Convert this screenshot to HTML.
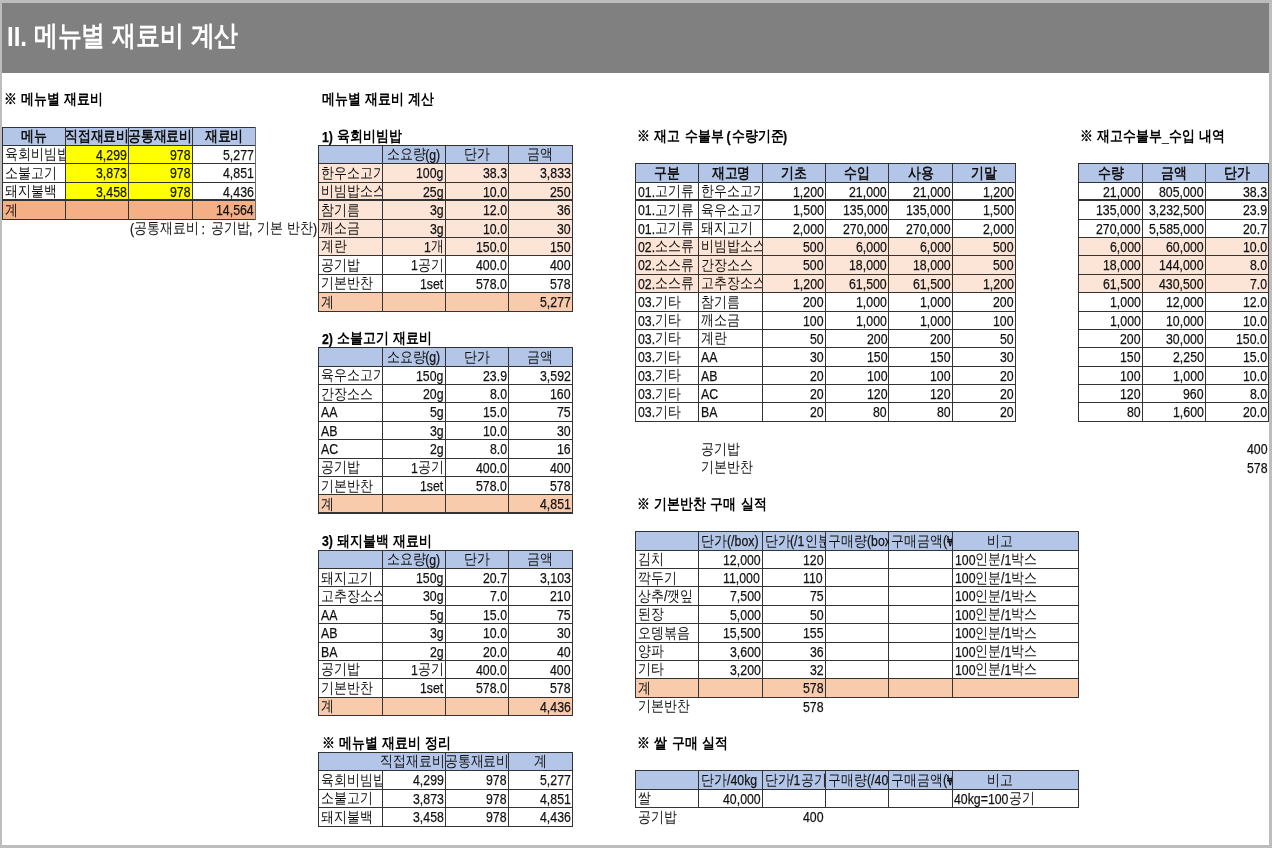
<!DOCTYPE html>
<html lang="ko"><head><meta charset="utf-8"><title>메뉴별 재료비 계산</title>
<style>
html,body{margin:0;padding:0;background:#bdbdbd;}
body{width:1272px;height:848px;position:relative;overflow:hidden;font-family:"Liberation Sans",sans-serif;}
#page{position:absolute;left:2px;top:3px;width:1267px;height:842px;background:#fff;}
#bar{position:absolute;left:2px;top:3px;width:1267px;height:70px;background:#808080;}
#bar i{font-style:normal;position:relative;top:1px;font-size:28px;}
#bar span{position:absolute;left:5px;top:15px;color:#fff;font-weight:bold;font-size:28px;line-height:36px;white-space:nowrap;transform:scaleX(0.855);transform-origin:left center;}
#wrap{position:absolute;left:0;top:0;width:1272px;height:848px;will-change:transform;}
.r{position:absolute;}
.t{position:absolute;white-space:nowrap;line-height:18.39px;color:#111;}
.t span{display:inline-block;}
.c{position:absolute;line-height:18.39px;font-size:15px;}
.c span{position:absolute;top:0;white-space:nowrap;}
.c i{font-style:normal;display:inline-block;white-space:pre;}
.c i i{transform-origin:left center;}
.k{font-size:15px;} .k i{transform:scaleX(0.86);}
.l{font-size:15.5px;position:relative;top:0.5px;-webkit-text-stroke:0.25px currentColor;} .l i{transform:scaleX(0.795);}
.b{font-weight:bold;}
</style></head><body>
<div id="wrap">
<div id="page"></div>
<div id="bar"><span><i>II.</i> 메뉴별 재료비 계산</span></div>
<div class="r" style="left:2px;top:127px;width:253px;height:18px;background:#b4c6e7"></div>
<div class="r" style="left:65px;top:145px;width:63px;height:18px;background:#ffff00"></div>
<div class="r" style="left:128px;top:145px;width:64px;height:18px;background:#ffff00"></div>
<div class="r" style="left:65px;top:163px;width:63px;height:19px;background:#ffff00"></div>
<div class="r" style="left:128px;top:163px;width:64px;height:19px;background:#ffff00"></div>
<div class="r" style="left:65px;top:182px;width:63px;height:18px;background:#ffff00"></div>
<div class="r" style="left:128px;top:182px;width:64px;height:18px;background:#ffff00"></div>
<div class="r" style="left:2px;top:200px;width:253px;height:19px;background:#f4b084"></div>
<div class="r" style="left:2px;top:127px;width:254px;height:1px;background:#333"></div>
<div class="r" style="left:2px;top:145px;width:254px;height:1px;background:#333"></div>
<div class="r" style="left:2px;top:163px;width:254px;height:1px;background:#333"></div>
<div class="r" style="left:2px;top:182px;width:254px;height:1px;background:#333"></div>
<div class="r" style="left:2px;top:199px;width:254px;height:2px;background:#333"></div>
<div class="r" style="left:2px;top:219px;width:254px;height:1px;background:#333"></div>
<div class="r" style="left:2px;top:127px;width:1px;height:19px;background:#333"></div>
<div class="r" style="left:2px;top:145px;width:1px;height:19px;background:#333"></div>
<div class="r" style="left:2px;top:163px;width:1px;height:20px;background:#333"></div>
<div class="r" style="left:2px;top:182px;width:1px;height:19px;background:#333"></div>
<div class="r" style="left:2px;top:200px;width:1px;height:20px;background:#333"></div>
<div class="r" style="left:65px;top:127px;width:1px;height:19px;background:#333"></div>
<div class="r" style="left:65px;top:145px;width:1px;height:19px;background:#333"></div>
<div class="r" style="left:65px;top:163px;width:1px;height:20px;background:#333"></div>
<div class="r" style="left:65px;top:182px;width:1px;height:19px;background:#333"></div>
<div class="r" style="left:65px;top:200px;width:1px;height:20px;background:#333"></div>
<div class="r" style="left:128px;top:127px;width:1px;height:19px;background:#333"></div>
<div class="r" style="left:128px;top:145px;width:1px;height:19px;background:#333"></div>
<div class="r" style="left:128px;top:163px;width:1px;height:20px;background:#333"></div>
<div class="r" style="left:128px;top:182px;width:1px;height:19px;background:#333"></div>
<div class="r" style="left:128px;top:200px;width:1px;height:20px;background:#333"></div>
<div class="r" style="left:192px;top:127px;width:1px;height:19px;background:#333"></div>
<div class="r" style="left:192px;top:145px;width:1px;height:19px;background:#333"></div>
<div class="r" style="left:192px;top:163px;width:1px;height:20px;background:#333"></div>
<div class="r" style="left:192px;top:182px;width:1px;height:19px;background:#333"></div>
<div class="r" style="left:192px;top:200px;width:1px;height:20px;background:#333"></div>
<div class="r" style="left:255px;top:127px;width:1px;height:19px;background:#6e6e6e"></div>
<div class="r" style="left:255px;top:145px;width:1px;height:19px;background:#6e6e6e"></div>
<div class="r" style="left:255px;top:163px;width:1px;height:20px;background:#6e6e6e"></div>
<div class="r" style="left:255px;top:182px;width:1px;height:19px;background:#6e6e6e"></div>
<div class="r" style="left:255px;top:200px;width:1px;height:20px;background:#6e6e6e"></div>
<div class="c b" style="left:2.00px;width:63.35px;top:127.08px;height:18.39px;overflow:hidden;color:#111"><span style="left:50%;transform:translateX(-50%)"><i class="k" style="width:25.80px"><i>메뉴</i></i></span></div>
<div class="c b" style="left:65.35px;width:63.35px;top:127.08px;height:18.39px;overflow:hidden;color:#111"><span style="left:50%;transform:translateX(-50%)"><i class="k" style="width:64.50px"><i>직접재료비</i></i></span></div>
<div class="c b" style="left:128.70px;width:63.35px;top:127.08px;height:18.39px;overflow:hidden;color:#111"><span style="left:50%;transform:translateX(-50%)"><i class="k" style="width:64.50px"><i>공통재료비</i></i></span></div>
<div class="c b" style="left:192.05px;width:63.35px;top:127.08px;height:18.39px;overflow:hidden;color:#111"><span style="left:50%;transform:translateX(-50%)"><i class="k" style="width:38.70px"><i>재료비</i></i></span></div>
<div class="c" style="left:2.00px;width:63.35px;top:145.47px;height:18.39px;overflow:hidden;color:#111"><span style="left:2.5px"><i class="k" style="width:64.50px"><i>육회비빔밥</i></i></span></div>
<div class="c" style="left:65.35px;width:63.35px;top:145.47px;height:18.39px;overflow:hidden;color:#111"><span style="right:1.8px"><i class="l" style="width:30.84px"><i>4,299</i></i></span></div>
<div class="c" style="left:128.70px;width:63.35px;top:145.47px;height:18.39px;overflow:hidden;color:#111"><span style="right:1.8px"><i class="l" style="width:20.56px"><i>978</i></i></span></div>
<div class="c" style="left:192.05px;width:63.35px;top:145.47px;height:18.39px;overflow:hidden;color:#111"><span style="right:1.8px"><i class="l" style="width:30.84px"><i>5,277</i></i></span></div>
<div class="c" style="left:2.00px;width:63.35px;top:163.87px;height:18.39px;overflow:hidden;color:#111"><span style="left:2.5px"><i class="k" style="width:51.60px"><i>소불고기</i></i></span></div>
<div class="c" style="left:65.35px;width:63.35px;top:163.87px;height:18.39px;overflow:hidden;color:#111"><span style="right:1.8px"><i class="l" style="width:30.84px"><i>3,873</i></i></span></div>
<div class="c" style="left:128.70px;width:63.35px;top:163.87px;height:18.39px;overflow:hidden;color:#111"><span style="right:1.8px"><i class="l" style="width:20.56px"><i>978</i></i></span></div>
<div class="c" style="left:192.05px;width:63.35px;top:163.87px;height:18.39px;overflow:hidden;color:#111"><span style="right:1.8px"><i class="l" style="width:30.84px"><i>4,851</i></i></span></div>
<div class="c" style="left:2.00px;width:63.35px;top:182.26px;height:18.39px;overflow:hidden;color:#111"><span style="left:2.5px"><i class="k" style="width:51.60px"><i>돼지불백</i></i></span></div>
<div class="c" style="left:65.35px;width:63.35px;top:182.26px;height:18.39px;overflow:hidden;color:#111"><span style="right:1.8px"><i class="l" style="width:30.84px"><i>3,458</i></i></span></div>
<div class="c" style="left:128.70px;width:63.35px;top:182.26px;height:18.39px;overflow:hidden;color:#111"><span style="right:1.8px"><i class="l" style="width:20.56px"><i>978</i></i></span></div>
<div class="c" style="left:192.05px;width:63.35px;top:182.26px;height:18.39px;overflow:hidden;color:#111"><span style="right:1.8px"><i class="l" style="width:30.84px"><i>4,436</i></i></span></div>
<div class="c" style="left:2.00px;width:63.35px;top:200.65px;height:18.39px;overflow:hidden;color:#111"><span style="left:2.5px"><i class="k" style="width:12.90px"><i>계</i></i></span></div>
<div class="c" style="left:192.05px;width:63.35px;top:200.65px;height:18.39px;overflow:hidden;color:#111"><span style="right:1.8px"><i class="l" style="width:37.69px"><i>14,564</i></i></span></div>
<div class="r" style="left:318px;top:145px;width:254px;height:18px;background:#b4c6e7"></div>
<div class="r" style="left:318px;top:163px;width:254px;height:19px;background:#fce4d6"></div>
<div class="r" style="left:318px;top:182px;width:254px;height:18px;background:#fce4d6"></div>
<div class="r" style="left:318px;top:200px;width:254px;height:19px;background:#fce4d6"></div>
<div class="r" style="left:318px;top:219px;width:254px;height:18px;background:#fce4d6"></div>
<div class="r" style="left:318px;top:237px;width:254px;height:18px;background:#fce4d6"></div>
<div class="r" style="left:318px;top:292px;width:254px;height:19px;background:#f8cbad"></div>
<div class="r" style="left:318px;top:145px;width:255px;height:1px;background:#333"></div>
<div class="r" style="left:318px;top:163px;width:255px;height:1px;background:#333"></div>
<div class="r" style="left:318px;top:182px;width:255px;height:1px;background:#333"></div>
<div class="r" style="left:318px;top:199px;width:255px;height:2px;background:#333"></div>
<div class="r" style="left:318px;top:219px;width:255px;height:1px;background:#333"></div>
<div class="r" style="left:318px;top:237px;width:255px;height:1px;background:#333"></div>
<div class="r" style="left:318px;top:255px;width:255px;height:1px;background:#333"></div>
<div class="r" style="left:318px;top:274px;width:255px;height:1px;background:#333"></div>
<div class="r" style="left:318px;top:292px;width:255px;height:1px;background:#333"></div>
<div class="r" style="left:318px;top:311px;width:255px;height:1px;background:#333"></div>
<div class="r" style="left:318px;top:145px;width:1px;height:19px;background:#333"></div>
<div class="r" style="left:318px;top:163px;width:1px;height:20px;background:#333"></div>
<div class="r" style="left:318px;top:182px;width:1px;height:19px;background:#333"></div>
<div class="r" style="left:318px;top:200px;width:1px;height:20px;background:#333"></div>
<div class="r" style="left:318px;top:219px;width:1px;height:19px;background:#333"></div>
<div class="r" style="left:318px;top:237px;width:1px;height:19px;background:#333"></div>
<div class="r" style="left:318px;top:255px;width:1px;height:20px;background:#333"></div>
<div class="r" style="left:318px;top:274px;width:1px;height:19px;background:#333"></div>
<div class="r" style="left:318px;top:292px;width:1px;height:20px;background:#333"></div>
<div class="r" style="left:382px;top:145px;width:1px;height:19px;background:#333"></div>
<div class="r" style="left:382px;top:163px;width:1px;height:20px;background:#333"></div>
<div class="r" style="left:382px;top:182px;width:1px;height:19px;background:#333"></div>
<div class="r" style="left:382px;top:200px;width:1px;height:20px;background:#333"></div>
<div class="r" style="left:382px;top:219px;width:1px;height:19px;background:#333"></div>
<div class="r" style="left:382px;top:237px;width:1px;height:19px;background:#333"></div>
<div class="r" style="left:382px;top:255px;width:1px;height:20px;background:#333"></div>
<div class="r" style="left:382px;top:274px;width:1px;height:19px;background:#333"></div>
<div class="r" style="left:382px;top:292px;width:1px;height:20px;background:#333"></div>
<div class="r" style="left:445px;top:145px;width:1px;height:19px;background:#333"></div>
<div class="r" style="left:445px;top:163px;width:1px;height:20px;background:#333"></div>
<div class="r" style="left:445px;top:182px;width:1px;height:19px;background:#333"></div>
<div class="r" style="left:445px;top:200px;width:1px;height:20px;background:#333"></div>
<div class="r" style="left:445px;top:219px;width:1px;height:19px;background:#333"></div>
<div class="r" style="left:445px;top:237px;width:1px;height:19px;background:#333"></div>
<div class="r" style="left:445px;top:255px;width:1px;height:20px;background:#333"></div>
<div class="r" style="left:445px;top:274px;width:1px;height:19px;background:#333"></div>
<div class="r" style="left:445px;top:292px;width:1px;height:20px;background:#333"></div>
<div class="r" style="left:508px;top:145px;width:1px;height:19px;background:#333"></div>
<div class="r" style="left:508px;top:163px;width:1px;height:20px;background:#333"></div>
<div class="r" style="left:508px;top:182px;width:1px;height:19px;background:#333"></div>
<div class="r" style="left:508px;top:200px;width:1px;height:20px;background:#333"></div>
<div class="r" style="left:508px;top:219px;width:1px;height:19px;background:#333"></div>
<div class="r" style="left:508px;top:237px;width:1px;height:19px;background:#333"></div>
<div class="r" style="left:508px;top:255px;width:1px;height:20px;background:#333"></div>
<div class="r" style="left:508px;top:274px;width:1px;height:19px;background:#333"></div>
<div class="r" style="left:508px;top:292px;width:1px;height:20px;background:#333"></div>
<div class="r" style="left:572px;top:145px;width:1px;height:19px;background:#333"></div>
<div class="r" style="left:572px;top:163px;width:1px;height:20px;background:#333"></div>
<div class="r" style="left:572px;top:182px;width:1px;height:19px;background:#333"></div>
<div class="r" style="left:572px;top:200px;width:1px;height:20px;background:#333"></div>
<div class="r" style="left:572px;top:219px;width:1px;height:19px;background:#333"></div>
<div class="r" style="left:572px;top:237px;width:1px;height:19px;background:#333"></div>
<div class="r" style="left:572px;top:255px;width:1px;height:20px;background:#333"></div>
<div class="r" style="left:572px;top:274px;width:1px;height:19px;background:#333"></div>
<div class="r" style="left:572px;top:292px;width:1px;height:20px;background:#333"></div>
<div class="c" style="left:382.10px;width:63.35px;top:145.47px;height:18.39px;overflow:hidden;color:#111"><span style="left:50%;transform:translateX(-50%)"><i class="k" style="width:38.70px"><i>소요량</i></i><i class="l" style="width:15.06px"><i>(g)</i></i></span></div>
<div class="c" style="left:445.45px;width:63.35px;top:145.47px;height:18.39px;overflow:hidden;color:#111"><span style="left:50%;transform:translateX(-50%)"><i class="k" style="width:25.80px"><i>단가</i></i></span></div>
<div class="c" style="left:508.80px;width:63.35px;top:145.47px;height:18.39px;overflow:hidden;color:#111"><span style="left:50%;transform:translateX(-50%)"><i class="k" style="width:25.80px"><i>금액</i></i></span></div>
<div class="c" style="left:318.75px;width:63.35px;top:163.87px;height:18.39px;overflow:hidden;color:#111"><span style="left:2.5px"><i class="k" style="width:64.50px"><i>한우소고기</i></i></span></div>
<div class="c" style="left:382.10px;width:63.35px;top:163.87px;height:18.39px;overflow:hidden;color:#111"><span style="right:1.8px"><i class="l" style="width:27.41px"><i>100g</i></i></span></div>
<div class="c" style="left:445.45px;width:63.35px;top:163.87px;height:18.39px;overflow:hidden;color:#111"><span style="right:1.8px"><i class="l" style="width:23.98px"><i>38.3</i></i></span></div>
<div class="c" style="left:508.80px;width:63.35px;top:163.87px;height:18.39px;overflow:hidden;color:#111"><span style="right:1.8px"><i class="l" style="width:30.84px"><i>3,833</i></i></span></div>
<div class="c" style="left:318.75px;width:63.35px;top:182.26px;height:18.39px;overflow:hidden;color:#111"><span style="left:2.5px"><i class="k" style="width:64.50px"><i>비빔밥소스</i></i></span></div>
<div class="c" style="left:382.10px;width:63.35px;top:182.26px;height:18.39px;overflow:hidden;color:#111"><span style="right:1.8px"><i class="l" style="width:20.56px"><i>25g</i></i></span></div>
<div class="c" style="left:445.45px;width:63.35px;top:182.26px;height:18.39px;overflow:hidden;color:#111"><span style="right:1.8px"><i class="l" style="width:23.98px"><i>10.0</i></i></span></div>
<div class="c" style="left:508.80px;width:63.35px;top:182.26px;height:18.39px;overflow:hidden;color:#111"><span style="right:1.8px"><i class="l" style="width:20.56px"><i>250</i></i></span></div>
<div class="c" style="left:318.75px;width:63.35px;top:200.65px;height:18.39px;overflow:hidden;color:#111"><span style="left:2.5px"><i class="k" style="width:38.70px"><i>참기름</i></i></span></div>
<div class="c" style="left:382.10px;width:63.35px;top:200.65px;height:18.39px;overflow:hidden;color:#111"><span style="right:1.8px"><i class="l" style="width:13.71px"><i>3g</i></i></span></div>
<div class="c" style="left:445.45px;width:63.35px;top:200.65px;height:18.39px;overflow:hidden;color:#111"><span style="right:1.8px"><i class="l" style="width:23.98px"><i>12.0</i></i></span></div>
<div class="c" style="left:508.80px;width:63.35px;top:200.65px;height:18.39px;overflow:hidden;color:#111"><span style="right:1.8px"><i class="l" style="width:13.71px"><i>36</i></i></span></div>
<div class="c" style="left:318.75px;width:63.35px;top:219.05px;height:18.39px;overflow:hidden;color:#111"><span style="left:2.5px"><i class="k" style="width:38.70px"><i>깨소금</i></i></span></div>
<div class="c" style="left:382.10px;width:63.35px;top:219.05px;height:18.39px;overflow:hidden;color:#111"><span style="right:1.8px"><i class="l" style="width:13.71px"><i>3g</i></i></span></div>
<div class="c" style="left:445.45px;width:63.35px;top:219.05px;height:18.39px;overflow:hidden;color:#111"><span style="right:1.8px"><i class="l" style="width:23.98px"><i>10.0</i></i></span></div>
<div class="c" style="left:508.80px;width:63.35px;top:219.05px;height:18.39px;overflow:hidden;color:#111"><span style="right:1.8px"><i class="l" style="width:13.71px"><i>30</i></i></span></div>
<div class="c" style="left:318.75px;width:63.35px;top:237.44px;height:18.39px;overflow:hidden;color:#111"><span style="left:2.5px"><i class="k" style="width:25.80px"><i>계란</i></i></span></div>
<div class="c" style="left:382.10px;width:63.35px;top:237.44px;height:18.39px;overflow:hidden;color:#111"><span style="right:1.8px"><i class="l" style="width:6.85px"><i>1</i></i><i class="k" style="width:12.90px"><i>개</i></i></span></div>
<div class="c" style="left:445.45px;width:63.35px;top:237.44px;height:18.39px;overflow:hidden;color:#111"><span style="right:1.8px"><i class="l" style="width:30.84px"><i>150.0</i></i></span></div>
<div class="c" style="left:508.80px;width:63.35px;top:237.44px;height:18.39px;overflow:hidden;color:#111"><span style="right:1.8px"><i class="l" style="width:20.56px"><i>150</i></i></span></div>
<div class="c" style="left:318.75px;width:63.35px;top:255.83px;height:18.39px;overflow:hidden;color:#111"><span style="left:2.5px"><i class="k" style="width:38.70px"><i>공기밥</i></i></span></div>
<div class="c" style="left:382.10px;width:63.35px;top:255.83px;height:18.39px;overflow:hidden;color:#111"><span style="right:1.8px"><i class="l" style="width:6.85px"><i>1</i></i><i class="k" style="width:25.80px"><i>공기</i></i></span></div>
<div class="c" style="left:445.45px;width:63.35px;top:255.83px;height:18.39px;overflow:hidden;color:#111"><span style="right:1.8px"><i class="l" style="width:30.84px"><i>400.0</i></i></span></div>
<div class="c" style="left:508.80px;width:63.35px;top:255.83px;height:18.39px;overflow:hidden;color:#111"><span style="right:1.8px"><i class="l" style="width:20.56px"><i>400</i></i></span></div>
<div class="c" style="left:318.75px;width:63.35px;top:274.22px;height:18.39px;overflow:hidden;color:#111"><span style="left:2.5px"><i class="k" style="width:51.60px"><i>기본반찬</i></i></span></div>
<div class="c" style="left:382.10px;width:63.35px;top:274.22px;height:18.39px;overflow:hidden;color:#111"><span style="right:1.8px"><i class="l" style="width:23.29px"><i>1set</i></i></span></div>
<div class="c" style="left:445.45px;width:63.35px;top:274.22px;height:18.39px;overflow:hidden;color:#111"><span style="right:1.8px"><i class="l" style="width:30.84px"><i>578.0</i></i></span></div>
<div class="c" style="left:508.80px;width:63.35px;top:274.22px;height:18.39px;overflow:hidden;color:#111"><span style="right:1.8px"><i class="l" style="width:20.56px"><i>578</i></i></span></div>
<div class="c" style="left:318.75px;width:63.35px;top:292.62px;height:18.39px;overflow:hidden;color:#111"><span style="left:2.5px"><i class="k" style="width:12.90px"><i>계</i></i></span></div>
<div class="c" style="left:508.80px;width:63.35px;top:292.62px;height:18.39px;overflow:hidden;color:#111"><span style="right:1.8px"><i class="l" style="width:30.84px"><i>5,277</i></i></span></div>
<div class="r" style="left:318px;top:347px;width:254px;height:19px;background:#b4c6e7"></div>
<div class="r" style="left:318px;top:494px;width:254px;height:19px;background:#f8cbad"></div>
<div class="r" style="left:318px;top:347px;width:255px;height:1px;background:#333"></div>
<div class="r" style="left:318px;top:366px;width:255px;height:1px;background:#333"></div>
<div class="r" style="left:318px;top:384px;width:255px;height:1px;background:#333"></div>
<div class="r" style="left:318px;top:402px;width:255px;height:1px;background:#333"></div>
<div class="r" style="left:318px;top:421px;width:255px;height:1px;background:#333"></div>
<div class="r" style="left:318px;top:439px;width:255px;height:1px;background:#333"></div>
<div class="r" style="left:318px;top:458px;width:255px;height:1px;background:#333"></div>
<div class="r" style="left:318px;top:476px;width:255px;height:1px;background:#333"></div>
<div class="r" style="left:318px;top:494px;width:255px;height:1px;background:#333"></div>
<div class="r" style="left:318px;top:512px;width:255px;height:2px;background:#333"></div>
<div class="r" style="left:318px;top:347px;width:1px;height:20px;background:#333"></div>
<div class="r" style="left:318px;top:366px;width:1px;height:19px;background:#333"></div>
<div class="r" style="left:318px;top:384px;width:1px;height:19px;background:#333"></div>
<div class="r" style="left:318px;top:402px;width:1px;height:20px;background:#333"></div>
<div class="r" style="left:318px;top:421px;width:1px;height:19px;background:#333"></div>
<div class="r" style="left:318px;top:439px;width:1px;height:20px;background:#333"></div>
<div class="r" style="left:318px;top:458px;width:1px;height:19px;background:#333"></div>
<div class="r" style="left:318px;top:476px;width:1px;height:19px;background:#333"></div>
<div class="r" style="left:318px;top:494px;width:1px;height:20px;background:#333"></div>
<div class="r" style="left:382px;top:347px;width:1px;height:20px;background:#333"></div>
<div class="r" style="left:382px;top:366px;width:1px;height:19px;background:#333"></div>
<div class="r" style="left:382px;top:384px;width:1px;height:19px;background:#333"></div>
<div class="r" style="left:382px;top:402px;width:1px;height:20px;background:#333"></div>
<div class="r" style="left:382px;top:421px;width:1px;height:19px;background:#333"></div>
<div class="r" style="left:382px;top:439px;width:1px;height:20px;background:#333"></div>
<div class="r" style="left:382px;top:458px;width:1px;height:19px;background:#333"></div>
<div class="r" style="left:382px;top:476px;width:1px;height:19px;background:#333"></div>
<div class="r" style="left:382px;top:494px;width:1px;height:20px;background:#333"></div>
<div class="r" style="left:445px;top:347px;width:1px;height:20px;background:#333"></div>
<div class="r" style="left:445px;top:366px;width:1px;height:19px;background:#333"></div>
<div class="r" style="left:445px;top:384px;width:1px;height:19px;background:#333"></div>
<div class="r" style="left:445px;top:402px;width:1px;height:20px;background:#333"></div>
<div class="r" style="left:445px;top:421px;width:1px;height:19px;background:#333"></div>
<div class="r" style="left:445px;top:439px;width:1px;height:20px;background:#333"></div>
<div class="r" style="left:445px;top:458px;width:1px;height:19px;background:#333"></div>
<div class="r" style="left:445px;top:476px;width:1px;height:19px;background:#333"></div>
<div class="r" style="left:445px;top:494px;width:1px;height:20px;background:#333"></div>
<div class="r" style="left:508px;top:347px;width:1px;height:20px;background:#333"></div>
<div class="r" style="left:508px;top:366px;width:1px;height:19px;background:#333"></div>
<div class="r" style="left:508px;top:384px;width:1px;height:19px;background:#333"></div>
<div class="r" style="left:508px;top:402px;width:1px;height:20px;background:#333"></div>
<div class="r" style="left:508px;top:421px;width:1px;height:19px;background:#333"></div>
<div class="r" style="left:508px;top:439px;width:1px;height:20px;background:#333"></div>
<div class="r" style="left:508px;top:458px;width:1px;height:19px;background:#333"></div>
<div class="r" style="left:508px;top:476px;width:1px;height:19px;background:#333"></div>
<div class="r" style="left:508px;top:494px;width:1px;height:20px;background:#333"></div>
<div class="r" style="left:572px;top:347px;width:1px;height:20px;background:#333"></div>
<div class="r" style="left:572px;top:366px;width:1px;height:19px;background:#333"></div>
<div class="r" style="left:572px;top:384px;width:1px;height:19px;background:#333"></div>
<div class="r" style="left:572px;top:402px;width:1px;height:20px;background:#333"></div>
<div class="r" style="left:572px;top:421px;width:1px;height:19px;background:#333"></div>
<div class="r" style="left:572px;top:439px;width:1px;height:20px;background:#333"></div>
<div class="r" style="left:572px;top:458px;width:1px;height:19px;background:#333"></div>
<div class="r" style="left:572px;top:476px;width:1px;height:19px;background:#333"></div>
<div class="r" style="left:572px;top:494px;width:1px;height:20px;background:#333"></div>
<div class="c" style="left:382.10px;width:63.35px;top:347.80px;height:18.39px;overflow:hidden;color:#111"><span style="left:50%;transform:translateX(-50%)"><i class="k" style="width:38.70px"><i>소요량</i></i><i class="l" style="width:15.06px"><i>(g)</i></i></span></div>
<div class="c" style="left:445.45px;width:63.35px;top:347.80px;height:18.39px;overflow:hidden;color:#111"><span style="left:50%;transform:translateX(-50%)"><i class="k" style="width:25.80px"><i>단가</i></i></span></div>
<div class="c" style="left:508.80px;width:63.35px;top:347.80px;height:18.39px;overflow:hidden;color:#111"><span style="left:50%;transform:translateX(-50%)"><i class="k" style="width:25.80px"><i>금액</i></i></span></div>
<div class="c" style="left:318.75px;width:63.35px;top:366.19px;height:18.39px;overflow:hidden;color:#111"><span style="left:2.5px"><i class="k" style="width:64.50px"><i>육우소고기</i></i></span></div>
<div class="c" style="left:382.10px;width:63.35px;top:366.19px;height:18.39px;overflow:hidden;color:#111"><span style="right:1.8px"><i class="l" style="width:27.41px"><i>150g</i></i></span></div>
<div class="c" style="left:445.45px;width:63.35px;top:366.19px;height:18.39px;overflow:hidden;color:#111"><span style="right:1.8px"><i class="l" style="width:23.98px"><i>23.9</i></i></span></div>
<div class="c" style="left:508.80px;width:63.35px;top:366.19px;height:18.39px;overflow:hidden;color:#111"><span style="right:1.8px"><i class="l" style="width:30.84px"><i>3,592</i></i></span></div>
<div class="c" style="left:318.75px;width:63.35px;top:384.58px;height:18.39px;overflow:hidden;color:#111"><span style="left:2.5px"><i class="k" style="width:51.60px"><i>간장소스</i></i></span></div>
<div class="c" style="left:382.10px;width:63.35px;top:384.58px;height:18.39px;overflow:hidden;color:#111"><span style="right:1.8px"><i class="l" style="width:20.56px"><i>20g</i></i></span></div>
<div class="c" style="left:445.45px;width:63.35px;top:384.58px;height:18.39px;overflow:hidden;color:#111"><span style="right:1.8px"><i class="l" style="width:17.13px"><i>8.0</i></i></span></div>
<div class="c" style="left:508.80px;width:63.35px;top:384.58px;height:18.39px;overflow:hidden;color:#111"><span style="right:1.8px"><i class="l" style="width:20.56px"><i>160</i></i></span></div>
<div class="c" style="left:318.75px;width:63.35px;top:402.97px;height:18.39px;overflow:hidden;color:#111"><span style="left:2.5px"><i class="l" style="width:16.44px"><i>AA</i></i></span></div>
<div class="c" style="left:382.10px;width:63.35px;top:402.97px;height:18.39px;overflow:hidden;color:#111"><span style="right:1.8px"><i class="l" style="width:13.71px"><i>5g</i></i></span></div>
<div class="c" style="left:445.45px;width:63.35px;top:402.97px;height:18.39px;overflow:hidden;color:#111"><span style="right:1.8px"><i class="l" style="width:23.98px"><i>15.0</i></i></span></div>
<div class="c" style="left:508.80px;width:63.35px;top:402.97px;height:18.39px;overflow:hidden;color:#111"><span style="right:1.8px"><i class="l" style="width:13.71px"><i>75</i></i></span></div>
<div class="c" style="left:318.75px;width:63.35px;top:421.37px;height:18.39px;overflow:hidden;color:#111"><span style="left:2.5px"><i class="l" style="width:16.44px"><i>AB</i></i></span></div>
<div class="c" style="left:382.10px;width:63.35px;top:421.37px;height:18.39px;overflow:hidden;color:#111"><span style="right:1.8px"><i class="l" style="width:13.71px"><i>3g</i></i></span></div>
<div class="c" style="left:445.45px;width:63.35px;top:421.37px;height:18.39px;overflow:hidden;color:#111"><span style="right:1.8px"><i class="l" style="width:23.98px"><i>10.0</i></i></span></div>
<div class="c" style="left:508.80px;width:63.35px;top:421.37px;height:18.39px;overflow:hidden;color:#111"><span style="right:1.8px"><i class="l" style="width:13.71px"><i>30</i></i></span></div>
<div class="c" style="left:318.75px;width:63.35px;top:439.76px;height:18.39px;overflow:hidden;color:#111"><span style="left:2.5px"><i class="l" style="width:17.12px"><i>AC</i></i></span></div>
<div class="c" style="left:382.10px;width:63.35px;top:439.76px;height:18.39px;overflow:hidden;color:#111"><span style="right:1.8px"><i class="l" style="width:13.71px"><i>2g</i></i></span></div>
<div class="c" style="left:445.45px;width:63.35px;top:439.76px;height:18.39px;overflow:hidden;color:#111"><span style="right:1.8px"><i class="l" style="width:17.13px"><i>8.0</i></i></span></div>
<div class="c" style="left:508.80px;width:63.35px;top:439.76px;height:18.39px;overflow:hidden;color:#111"><span style="right:1.8px"><i class="l" style="width:13.71px"><i>16</i></i></span></div>
<div class="c" style="left:318.75px;width:63.35px;top:458.15px;height:18.39px;overflow:hidden;color:#111"><span style="left:2.5px"><i class="k" style="width:38.70px"><i>공기밥</i></i></span></div>
<div class="c" style="left:382.10px;width:63.35px;top:458.15px;height:18.39px;overflow:hidden;color:#111"><span style="right:1.8px"><i class="l" style="width:6.85px"><i>1</i></i><i class="k" style="width:25.80px"><i>공기</i></i></span></div>
<div class="c" style="left:445.45px;width:63.35px;top:458.15px;height:18.39px;overflow:hidden;color:#111"><span style="right:1.8px"><i class="l" style="width:30.84px"><i>400.0</i></i></span></div>
<div class="c" style="left:508.80px;width:63.35px;top:458.15px;height:18.39px;overflow:hidden;color:#111"><span style="right:1.8px"><i class="l" style="width:20.56px"><i>400</i></i></span></div>
<div class="c" style="left:318.75px;width:63.35px;top:476.55px;height:18.39px;overflow:hidden;color:#111"><span style="left:2.5px"><i class="k" style="width:51.60px"><i>기본반찬</i></i></span></div>
<div class="c" style="left:382.10px;width:63.35px;top:476.55px;height:18.39px;overflow:hidden;color:#111"><span style="right:1.8px"><i class="l" style="width:23.29px"><i>1set</i></i></span></div>
<div class="c" style="left:445.45px;width:63.35px;top:476.55px;height:18.39px;overflow:hidden;color:#111"><span style="right:1.8px"><i class="l" style="width:30.84px"><i>578.0</i></i></span></div>
<div class="c" style="left:508.80px;width:63.35px;top:476.55px;height:18.39px;overflow:hidden;color:#111"><span style="right:1.8px"><i class="l" style="width:20.56px"><i>578</i></i></span></div>
<div class="c" style="left:318.75px;width:63.35px;top:494.94px;height:18.39px;overflow:hidden;color:#111"><span style="left:2.5px"><i class="k" style="width:12.90px"><i>계</i></i></span></div>
<div class="c" style="left:508.80px;width:63.35px;top:494.94px;height:18.39px;overflow:hidden;color:#111"><span style="right:1.8px"><i class="l" style="width:30.84px"><i>4,851</i></i></span></div>
<div class="r" style="left:318px;top:550px;width:254px;height:18px;background:#b4c6e7"></div>
<div class="r" style="left:318px;top:697px;width:254px;height:18px;background:#f8cbad"></div>
<div class="r" style="left:318px;top:550px;width:255px;height:1px;background:#333"></div>
<div class="r" style="left:318px;top:568px;width:255px;height:1px;background:#333"></div>
<div class="r" style="left:318px;top:586px;width:255px;height:1px;background:#333"></div>
<div class="r" style="left:318px;top:605px;width:255px;height:1px;background:#333"></div>
<div class="r" style="left:318px;top:623px;width:255px;height:1px;background:#333"></div>
<div class="r" style="left:318px;top:642px;width:255px;height:1px;background:#333"></div>
<div class="r" style="left:318px;top:660px;width:255px;height:1px;background:#333"></div>
<div class="r" style="left:318px;top:678px;width:255px;height:1px;background:#333"></div>
<div class="r" style="left:318px;top:697px;width:255px;height:1px;background:#333"></div>
<div class="r" style="left:318px;top:715px;width:255px;height:1px;background:#333"></div>
<div class="r" style="left:318px;top:550px;width:1px;height:19px;background:#333"></div>
<div class="r" style="left:318px;top:568px;width:1px;height:19px;background:#333"></div>
<div class="r" style="left:318px;top:586px;width:1px;height:20px;background:#333"></div>
<div class="r" style="left:318px;top:605px;width:1px;height:19px;background:#333"></div>
<div class="r" style="left:318px;top:623px;width:1px;height:20px;background:#333"></div>
<div class="r" style="left:318px;top:642px;width:1px;height:19px;background:#333"></div>
<div class="r" style="left:318px;top:660px;width:1px;height:19px;background:#333"></div>
<div class="r" style="left:318px;top:678px;width:1px;height:20px;background:#333"></div>
<div class="r" style="left:318px;top:697px;width:1px;height:19px;background:#333"></div>
<div class="r" style="left:382px;top:550px;width:1px;height:19px;background:#333"></div>
<div class="r" style="left:382px;top:568px;width:1px;height:19px;background:#333"></div>
<div class="r" style="left:382px;top:586px;width:1px;height:20px;background:#333"></div>
<div class="r" style="left:382px;top:605px;width:1px;height:19px;background:#333"></div>
<div class="r" style="left:382px;top:623px;width:1px;height:20px;background:#333"></div>
<div class="r" style="left:382px;top:642px;width:1px;height:19px;background:#333"></div>
<div class="r" style="left:382px;top:660px;width:1px;height:19px;background:#333"></div>
<div class="r" style="left:382px;top:678px;width:1px;height:20px;background:#333"></div>
<div class="r" style="left:382px;top:697px;width:1px;height:19px;background:#333"></div>
<div class="r" style="left:445px;top:550px;width:1px;height:19px;background:#333"></div>
<div class="r" style="left:445px;top:568px;width:1px;height:19px;background:#333"></div>
<div class="r" style="left:445px;top:586px;width:1px;height:20px;background:#333"></div>
<div class="r" style="left:445px;top:605px;width:1px;height:19px;background:#333"></div>
<div class="r" style="left:445px;top:623px;width:1px;height:20px;background:#333"></div>
<div class="r" style="left:445px;top:642px;width:1px;height:19px;background:#333"></div>
<div class="r" style="left:445px;top:660px;width:1px;height:19px;background:#333"></div>
<div class="r" style="left:445px;top:678px;width:1px;height:20px;background:#333"></div>
<div class="r" style="left:445px;top:697px;width:1px;height:19px;background:#333"></div>
<div class="r" style="left:508px;top:550px;width:1px;height:19px;background:#333"></div>
<div class="r" style="left:508px;top:568px;width:1px;height:19px;background:#333"></div>
<div class="r" style="left:508px;top:586px;width:1px;height:20px;background:#333"></div>
<div class="r" style="left:508px;top:605px;width:1px;height:19px;background:#333"></div>
<div class="r" style="left:508px;top:623px;width:1px;height:20px;background:#333"></div>
<div class="r" style="left:508px;top:642px;width:1px;height:19px;background:#333"></div>
<div class="r" style="left:508px;top:660px;width:1px;height:19px;background:#333"></div>
<div class="r" style="left:508px;top:678px;width:1px;height:20px;background:#333"></div>
<div class="r" style="left:508px;top:697px;width:1px;height:19px;background:#333"></div>
<div class="r" style="left:572px;top:550px;width:1px;height:19px;background:#333"></div>
<div class="r" style="left:572px;top:568px;width:1px;height:19px;background:#333"></div>
<div class="r" style="left:572px;top:586px;width:1px;height:20px;background:#333"></div>
<div class="r" style="left:572px;top:605px;width:1px;height:19px;background:#333"></div>
<div class="r" style="left:572px;top:623px;width:1px;height:20px;background:#333"></div>
<div class="r" style="left:572px;top:642px;width:1px;height:19px;background:#333"></div>
<div class="r" style="left:572px;top:660px;width:1px;height:19px;background:#333"></div>
<div class="r" style="left:572px;top:678px;width:1px;height:20px;background:#333"></div>
<div class="r" style="left:572px;top:697px;width:1px;height:19px;background:#333"></div>
<div class="c" style="left:382.10px;width:63.35px;top:550.12px;height:18.39px;overflow:hidden;color:#111"><span style="left:50%;transform:translateX(-50%)"><i class="k" style="width:38.70px"><i>소요량</i></i><i class="l" style="width:15.06px"><i>(g)</i></i></span></div>
<div class="c" style="left:445.45px;width:63.35px;top:550.12px;height:18.39px;overflow:hidden;color:#111"><span style="left:50%;transform:translateX(-50%)"><i class="k" style="width:25.80px"><i>단가</i></i></span></div>
<div class="c" style="left:508.80px;width:63.35px;top:550.12px;height:18.39px;overflow:hidden;color:#111"><span style="left:50%;transform:translateX(-50%)"><i class="k" style="width:25.80px"><i>금액</i></i></span></div>
<div class="c" style="left:318.75px;width:63.35px;top:568.51px;height:18.39px;overflow:hidden;color:#111"><span style="left:2.5px"><i class="k" style="width:51.60px"><i>돼지고기</i></i></span></div>
<div class="c" style="left:382.10px;width:63.35px;top:568.51px;height:18.39px;overflow:hidden;color:#111"><span style="right:1.8px"><i class="l" style="width:27.41px"><i>150g</i></i></span></div>
<div class="c" style="left:445.45px;width:63.35px;top:568.51px;height:18.39px;overflow:hidden;color:#111"><span style="right:1.8px"><i class="l" style="width:23.98px"><i>20.7</i></i></span></div>
<div class="c" style="left:508.80px;width:63.35px;top:568.51px;height:18.39px;overflow:hidden;color:#111"><span style="right:1.8px"><i class="l" style="width:30.84px"><i>3,103</i></i></span></div>
<div class="c" style="left:318.75px;width:63.35px;top:586.91px;height:18.39px;overflow:hidden;color:#111"><span style="left:2.5px"><i class="k" style="width:64.50px"><i>고추장소스</i></i></span></div>
<div class="c" style="left:382.10px;width:63.35px;top:586.91px;height:18.39px;overflow:hidden;color:#111"><span style="right:1.8px"><i class="l" style="width:20.56px"><i>30g</i></i></span></div>
<div class="c" style="left:445.45px;width:63.35px;top:586.91px;height:18.39px;overflow:hidden;color:#111"><span style="right:1.8px"><i class="l" style="width:17.13px"><i>7.0</i></i></span></div>
<div class="c" style="left:508.80px;width:63.35px;top:586.91px;height:18.39px;overflow:hidden;color:#111"><span style="right:1.8px"><i class="l" style="width:20.56px"><i>210</i></i></span></div>
<div class="c" style="left:318.75px;width:63.35px;top:605.30px;height:18.39px;overflow:hidden;color:#111"><span style="left:2.5px"><i class="l" style="width:16.44px"><i>AA</i></i></span></div>
<div class="c" style="left:382.10px;width:63.35px;top:605.30px;height:18.39px;overflow:hidden;color:#111"><span style="right:1.8px"><i class="l" style="width:13.71px"><i>5g</i></i></span></div>
<div class="c" style="left:445.45px;width:63.35px;top:605.30px;height:18.39px;overflow:hidden;color:#111"><span style="right:1.8px"><i class="l" style="width:23.98px"><i>15.0</i></i></span></div>
<div class="c" style="left:508.80px;width:63.35px;top:605.30px;height:18.39px;overflow:hidden;color:#111"><span style="right:1.8px"><i class="l" style="width:13.71px"><i>75</i></i></span></div>
<div class="c" style="left:318.75px;width:63.35px;top:623.69px;height:18.39px;overflow:hidden;color:#111"><span style="left:2.5px"><i class="l" style="width:16.44px"><i>AB</i></i></span></div>
<div class="c" style="left:382.10px;width:63.35px;top:623.69px;height:18.39px;overflow:hidden;color:#111"><span style="right:1.8px"><i class="l" style="width:13.71px"><i>3g</i></i></span></div>
<div class="c" style="left:445.45px;width:63.35px;top:623.69px;height:18.39px;overflow:hidden;color:#111"><span style="right:1.8px"><i class="l" style="width:23.98px"><i>10.0</i></i></span></div>
<div class="c" style="left:508.80px;width:63.35px;top:623.69px;height:18.39px;overflow:hidden;color:#111"><span style="right:1.8px"><i class="l" style="width:13.71px"><i>30</i></i></span></div>
<div class="c" style="left:318.75px;width:63.35px;top:642.08px;height:18.39px;overflow:hidden;color:#111"><span style="left:2.5px"><i class="l" style="width:16.44px"><i>BA</i></i></span></div>
<div class="c" style="left:382.10px;width:63.35px;top:642.08px;height:18.39px;overflow:hidden;color:#111"><span style="right:1.8px"><i class="l" style="width:13.71px"><i>2g</i></i></span></div>
<div class="c" style="left:445.45px;width:63.35px;top:642.08px;height:18.39px;overflow:hidden;color:#111"><span style="right:1.8px"><i class="l" style="width:23.98px"><i>20.0</i></i></span></div>
<div class="c" style="left:508.80px;width:63.35px;top:642.08px;height:18.39px;overflow:hidden;color:#111"><span style="right:1.8px"><i class="l" style="width:13.71px"><i>40</i></i></span></div>
<div class="c" style="left:318.75px;width:63.35px;top:660.48px;height:18.39px;overflow:hidden;color:#111"><span style="left:2.5px"><i class="k" style="width:38.70px"><i>공기밥</i></i></span></div>
<div class="c" style="left:382.10px;width:63.35px;top:660.48px;height:18.39px;overflow:hidden;color:#111"><span style="right:1.8px"><i class="l" style="width:6.85px"><i>1</i></i><i class="k" style="width:25.80px"><i>공기</i></i></span></div>
<div class="c" style="left:445.45px;width:63.35px;top:660.48px;height:18.39px;overflow:hidden;color:#111"><span style="right:1.8px"><i class="l" style="width:30.84px"><i>400.0</i></i></span></div>
<div class="c" style="left:508.80px;width:63.35px;top:660.48px;height:18.39px;overflow:hidden;color:#111"><span style="right:1.8px"><i class="l" style="width:20.56px"><i>400</i></i></span></div>
<div class="c" style="left:318.75px;width:63.35px;top:678.87px;height:18.39px;overflow:hidden;color:#111"><span style="left:2.5px"><i class="k" style="width:51.60px"><i>기본반찬</i></i></span></div>
<div class="c" style="left:382.10px;width:63.35px;top:678.87px;height:18.39px;overflow:hidden;color:#111"><span style="right:1.8px"><i class="l" style="width:23.29px"><i>1set</i></i></span></div>
<div class="c" style="left:445.45px;width:63.35px;top:678.87px;height:18.39px;overflow:hidden;color:#111"><span style="right:1.8px"><i class="l" style="width:30.84px"><i>578.0</i></i></span></div>
<div class="c" style="left:508.80px;width:63.35px;top:678.87px;height:18.39px;overflow:hidden;color:#111"><span style="right:1.8px"><i class="l" style="width:20.56px"><i>578</i></i></span></div>
<div class="c" style="left:318.75px;width:63.35px;top:697.26px;height:18.39px;overflow:hidden;color:#111"><span style="left:2.5px"><i class="k" style="width:12.90px"><i>계</i></i></span></div>
<div class="c" style="left:508.80px;width:63.35px;top:697.26px;height:18.39px;overflow:hidden;color:#111"><span style="right:1.8px"><i class="l" style="width:30.84px"><i>4,436</i></i></span></div>
<div class="r" style="left:318px;top:752px;width:254px;height:18px;background:#b4c6e7"></div>
<div class="r" style="left:318px;top:752px;width:255px;height:1px;background:#333"></div>
<div class="r" style="left:318px;top:770px;width:255px;height:1px;background:#333"></div>
<div class="r" style="left:318px;top:789px;width:255px;height:1px;background:#333"></div>
<div class="r" style="left:318px;top:807px;width:255px;height:1px;background:#333"></div>
<div class="r" style="left:318px;top:826px;width:255px;height:1px;background:#333"></div>
<div class="r" style="left:318px;top:752px;width:1px;height:19px;background:#333"></div>
<div class="r" style="left:318px;top:770px;width:1px;height:20px;background:#333"></div>
<div class="r" style="left:318px;top:789px;width:1px;height:19px;background:#333"></div>
<div class="r" style="left:318px;top:807px;width:1px;height:20px;background:#333"></div>
<div class="r" style="left:382px;top:770px;width:1px;height:20px;background:#333"></div>
<div class="r" style="left:382px;top:789px;width:1px;height:19px;background:#333"></div>
<div class="r" style="left:382px;top:807px;width:1px;height:20px;background:#333"></div>
<div class="r" style="left:445px;top:752px;width:1px;height:19px;background:#333"></div>
<div class="r" style="left:445px;top:770px;width:1px;height:20px;background:#333"></div>
<div class="r" style="left:445px;top:789px;width:1px;height:19px;background:#333"></div>
<div class="r" style="left:445px;top:807px;width:1px;height:20px;background:#333"></div>
<div class="r" style="left:508px;top:752px;width:1px;height:19px;background:#333"></div>
<div class="r" style="left:508px;top:770px;width:1px;height:20px;background:#333"></div>
<div class="r" style="left:508px;top:789px;width:1px;height:19px;background:#333"></div>
<div class="r" style="left:508px;top:807px;width:1px;height:20px;background:#333"></div>
<div class="r" style="left:572px;top:752px;width:1px;height:19px;background:#333"></div>
<div class="r" style="left:572px;top:770px;width:1px;height:20px;background:#333"></div>
<div class="r" style="left:572px;top:789px;width:1px;height:19px;background:#333"></div>
<div class="r" style="left:572px;top:807px;width:1px;height:20px;background:#333"></div>
<div class="c" style="left:445.45px;width:63.35px;top:752.44px;height:18.39px;overflow:hidden;color:#111"><span style="left:50%;transform:translateX(-50%)"><i class="k" style="width:64.50px"><i>공통재료비</i></i></span></div>
<div class="c" style="left:508.80px;width:63.35px;top:752.44px;height:18.39px;overflow:hidden;color:#111"><span style="left:50%;transform:translateX(-50%)"><i class="k" style="width:12.90px"><i>계</i></i></span></div>
<div class="c" style="left:318.75px;width:63.35px;top:770.84px;height:18.39px;overflow:hidden;color:#111"><span style="left:2.5px"><i class="k" style="width:64.50px"><i>육회비빔밥</i></i></span></div>
<div class="c" style="left:382.10px;width:63.35px;top:770.84px;height:18.39px;overflow:hidden;color:#111"><span style="right:1.8px"><i class="l" style="width:30.84px"><i>4,299</i></i></span></div>
<div class="c" style="left:445.45px;width:63.35px;top:770.84px;height:18.39px;overflow:hidden;color:#111"><span style="right:1.8px"><i class="l" style="width:20.56px"><i>978</i></i></span></div>
<div class="c" style="left:508.80px;width:63.35px;top:770.84px;height:18.39px;overflow:hidden;color:#111"><span style="right:1.8px"><i class="l" style="width:30.84px"><i>5,277</i></i></span></div>
<div class="c" style="left:318.75px;width:63.35px;top:789.23px;height:18.39px;overflow:hidden;color:#111"><span style="left:2.5px"><i class="k" style="width:51.60px"><i>소불고기</i></i></span></div>
<div class="c" style="left:382.10px;width:63.35px;top:789.23px;height:18.39px;overflow:hidden;color:#111"><span style="right:1.8px"><i class="l" style="width:30.84px"><i>3,873</i></i></span></div>
<div class="c" style="left:445.45px;width:63.35px;top:789.23px;height:18.39px;overflow:hidden;color:#111"><span style="right:1.8px"><i class="l" style="width:20.56px"><i>978</i></i></span></div>
<div class="c" style="left:508.80px;width:63.35px;top:789.23px;height:18.39px;overflow:hidden;color:#111"><span style="right:1.8px"><i class="l" style="width:30.84px"><i>4,851</i></i></span></div>
<div class="c" style="left:318.75px;width:63.35px;top:807.62px;height:18.39px;overflow:hidden;color:#111"><span style="left:2.5px"><i class="k" style="width:51.60px"><i>돼지불백</i></i></span></div>
<div class="c" style="left:382.10px;width:63.35px;top:807.62px;height:18.39px;overflow:hidden;color:#111"><span style="right:1.8px"><i class="l" style="width:30.84px"><i>3,458</i></i></span></div>
<div class="c" style="left:445.45px;width:63.35px;top:807.62px;height:18.39px;overflow:hidden;color:#111"><span style="right:1.8px"><i class="l" style="width:20.56px"><i>978</i></i></span></div>
<div class="c" style="left:508.80px;width:63.35px;top:807.62px;height:18.39px;overflow:hidden;color:#111"><span style="right:1.8px"><i class="l" style="width:30.84px"><i>4,436</i></i></span></div>
<div class="c" style="left:318.75px;width:126.70px;top:752.44px;height:18.39px;overflow:hidden;color:#111"><span style="right:0.5px"><i class="k" style="width:64.50px"><i>직접재료비</i></i></span></div>
<div class="r" style="left:635px;top:163px;width:380px;height:19px;background:#b4c6e7"></div>
<div class="r" style="left:635px;top:237px;width:380px;height:18px;background:#fce4d6"></div>
<div class="r" style="left:635px;top:255px;width:380px;height:19px;background:#fce4d6"></div>
<div class="r" style="left:635px;top:274px;width:380px;height:18px;background:#fce4d6"></div>
<div class="r" style="left:635px;top:163px;width:381px;height:1px;background:#333"></div>
<div class="r" style="left:635px;top:182px;width:381px;height:1px;background:#333"></div>
<div class="r" style="left:635px;top:199px;width:381px;height:2px;background:#333"></div>
<div class="r" style="left:635px;top:219px;width:381px;height:1px;background:#333"></div>
<div class="r" style="left:635px;top:237px;width:381px;height:1px;background:#333"></div>
<div class="r" style="left:635px;top:255px;width:381px;height:1px;background:#333"></div>
<div class="r" style="left:635px;top:274px;width:381px;height:1px;background:#333"></div>
<div class="r" style="left:635px;top:292px;width:381px;height:1px;background:#333"></div>
<div class="r" style="left:635px;top:311px;width:381px;height:1px;background:#333"></div>
<div class="r" style="left:635px;top:329px;width:381px;height:1px;background:#333"></div>
<div class="r" style="left:635px;top:347px;width:381px;height:1px;background:#333"></div>
<div class="r" style="left:635px;top:366px;width:381px;height:1px;background:#333"></div>
<div class="r" style="left:635px;top:384px;width:381px;height:1px;background:#333"></div>
<div class="r" style="left:635px;top:402px;width:381px;height:1px;background:#333"></div>
<div class="r" style="left:635px;top:421px;width:381px;height:1px;background:#333"></div>
<div class="r" style="left:635px;top:163px;width:1px;height:20px;background:#333"></div>
<div class="r" style="left:635px;top:182px;width:1px;height:19px;background:#333"></div>
<div class="r" style="left:635px;top:200px;width:1px;height:20px;background:#333"></div>
<div class="r" style="left:635px;top:219px;width:1px;height:19px;background:#333"></div>
<div class="r" style="left:635px;top:237px;width:1px;height:19px;background:#333"></div>
<div class="r" style="left:635px;top:255px;width:1px;height:20px;background:#333"></div>
<div class="r" style="left:635px;top:274px;width:1px;height:19px;background:#333"></div>
<div class="r" style="left:635px;top:292px;width:1px;height:20px;background:#333"></div>
<div class="r" style="left:635px;top:311px;width:1px;height:19px;background:#333"></div>
<div class="r" style="left:635px;top:329px;width:1px;height:19px;background:#333"></div>
<div class="r" style="left:635px;top:347px;width:1px;height:20px;background:#333"></div>
<div class="r" style="left:635px;top:366px;width:1px;height:19px;background:#333"></div>
<div class="r" style="left:635px;top:384px;width:1px;height:19px;background:#333"></div>
<div class="r" style="left:635px;top:402px;width:1px;height:20px;background:#333"></div>
<div class="r" style="left:698px;top:163px;width:1px;height:20px;background:#333"></div>
<div class="r" style="left:698px;top:182px;width:1px;height:19px;background:#333"></div>
<div class="r" style="left:698px;top:200px;width:1px;height:20px;background:#333"></div>
<div class="r" style="left:698px;top:219px;width:1px;height:19px;background:#333"></div>
<div class="r" style="left:698px;top:237px;width:1px;height:19px;background:#333"></div>
<div class="r" style="left:698px;top:255px;width:1px;height:20px;background:#333"></div>
<div class="r" style="left:698px;top:274px;width:1px;height:19px;background:#333"></div>
<div class="r" style="left:698px;top:292px;width:1px;height:20px;background:#333"></div>
<div class="r" style="left:698px;top:311px;width:1px;height:19px;background:#333"></div>
<div class="r" style="left:698px;top:329px;width:1px;height:19px;background:#333"></div>
<div class="r" style="left:698px;top:347px;width:1px;height:20px;background:#333"></div>
<div class="r" style="left:698px;top:366px;width:1px;height:19px;background:#333"></div>
<div class="r" style="left:698px;top:384px;width:1px;height:19px;background:#333"></div>
<div class="r" style="left:698px;top:402px;width:1px;height:20px;background:#333"></div>
<div class="r" style="left:762px;top:163px;width:1px;height:20px;background:#333"></div>
<div class="r" style="left:762px;top:182px;width:1px;height:19px;background:#333"></div>
<div class="r" style="left:762px;top:200px;width:1px;height:20px;background:#333"></div>
<div class="r" style="left:762px;top:219px;width:1px;height:19px;background:#333"></div>
<div class="r" style="left:762px;top:237px;width:1px;height:19px;background:#333"></div>
<div class="r" style="left:762px;top:255px;width:1px;height:20px;background:#333"></div>
<div class="r" style="left:762px;top:274px;width:1px;height:19px;background:#333"></div>
<div class="r" style="left:762px;top:292px;width:1px;height:20px;background:#333"></div>
<div class="r" style="left:762px;top:311px;width:1px;height:19px;background:#333"></div>
<div class="r" style="left:762px;top:329px;width:1px;height:19px;background:#333"></div>
<div class="r" style="left:762px;top:347px;width:1px;height:20px;background:#333"></div>
<div class="r" style="left:762px;top:366px;width:1px;height:19px;background:#333"></div>
<div class="r" style="left:762px;top:384px;width:1px;height:19px;background:#333"></div>
<div class="r" style="left:762px;top:402px;width:1px;height:20px;background:#333"></div>
<div class="r" style="left:825px;top:163px;width:1px;height:20px;background:#333"></div>
<div class="r" style="left:825px;top:182px;width:1px;height:19px;background:#333"></div>
<div class="r" style="left:825px;top:200px;width:1px;height:20px;background:#333"></div>
<div class="r" style="left:825px;top:219px;width:1px;height:19px;background:#333"></div>
<div class="r" style="left:825px;top:237px;width:1px;height:19px;background:#333"></div>
<div class="r" style="left:825px;top:255px;width:1px;height:20px;background:#333"></div>
<div class="r" style="left:825px;top:274px;width:1px;height:19px;background:#333"></div>
<div class="r" style="left:825px;top:292px;width:1px;height:20px;background:#333"></div>
<div class="r" style="left:825px;top:311px;width:1px;height:19px;background:#333"></div>
<div class="r" style="left:825px;top:329px;width:1px;height:19px;background:#333"></div>
<div class="r" style="left:825px;top:347px;width:1px;height:20px;background:#333"></div>
<div class="r" style="left:825px;top:366px;width:1px;height:19px;background:#333"></div>
<div class="r" style="left:825px;top:384px;width:1px;height:19px;background:#333"></div>
<div class="r" style="left:825px;top:402px;width:1px;height:20px;background:#333"></div>
<div class="r" style="left:888px;top:163px;width:1px;height:20px;background:#333"></div>
<div class="r" style="left:888px;top:182px;width:1px;height:19px;background:#333"></div>
<div class="r" style="left:888px;top:200px;width:1px;height:20px;background:#333"></div>
<div class="r" style="left:888px;top:219px;width:1px;height:19px;background:#333"></div>
<div class="r" style="left:888px;top:237px;width:1px;height:19px;background:#333"></div>
<div class="r" style="left:888px;top:255px;width:1px;height:20px;background:#333"></div>
<div class="r" style="left:888px;top:274px;width:1px;height:19px;background:#333"></div>
<div class="r" style="left:888px;top:292px;width:1px;height:20px;background:#333"></div>
<div class="r" style="left:888px;top:311px;width:1px;height:19px;background:#333"></div>
<div class="r" style="left:888px;top:329px;width:1px;height:19px;background:#333"></div>
<div class="r" style="left:888px;top:347px;width:1px;height:20px;background:#333"></div>
<div class="r" style="left:888px;top:366px;width:1px;height:19px;background:#333"></div>
<div class="r" style="left:888px;top:384px;width:1px;height:19px;background:#333"></div>
<div class="r" style="left:888px;top:402px;width:1px;height:20px;background:#333"></div>
<div class="r" style="left:952px;top:163px;width:1px;height:20px;background:#333"></div>
<div class="r" style="left:952px;top:182px;width:1px;height:19px;background:#333"></div>
<div class="r" style="left:952px;top:200px;width:1px;height:20px;background:#333"></div>
<div class="r" style="left:952px;top:219px;width:1px;height:19px;background:#333"></div>
<div class="r" style="left:952px;top:237px;width:1px;height:19px;background:#333"></div>
<div class="r" style="left:952px;top:255px;width:1px;height:20px;background:#333"></div>
<div class="r" style="left:952px;top:274px;width:1px;height:19px;background:#333"></div>
<div class="r" style="left:952px;top:292px;width:1px;height:20px;background:#333"></div>
<div class="r" style="left:952px;top:311px;width:1px;height:19px;background:#333"></div>
<div class="r" style="left:952px;top:329px;width:1px;height:19px;background:#333"></div>
<div class="r" style="left:952px;top:347px;width:1px;height:20px;background:#333"></div>
<div class="r" style="left:952px;top:366px;width:1px;height:19px;background:#333"></div>
<div class="r" style="left:952px;top:384px;width:1px;height:19px;background:#333"></div>
<div class="r" style="left:952px;top:402px;width:1px;height:20px;background:#333"></div>
<div class="r" style="left:1015px;top:163px;width:1px;height:20px;background:#333"></div>
<div class="r" style="left:1015px;top:182px;width:1px;height:19px;background:#333"></div>
<div class="r" style="left:1015px;top:200px;width:1px;height:20px;background:#333"></div>
<div class="r" style="left:1015px;top:219px;width:1px;height:19px;background:#333"></div>
<div class="r" style="left:1015px;top:237px;width:1px;height:19px;background:#333"></div>
<div class="r" style="left:1015px;top:255px;width:1px;height:20px;background:#333"></div>
<div class="r" style="left:1015px;top:274px;width:1px;height:19px;background:#333"></div>
<div class="r" style="left:1015px;top:292px;width:1px;height:20px;background:#333"></div>
<div class="r" style="left:1015px;top:311px;width:1px;height:19px;background:#333"></div>
<div class="r" style="left:1015px;top:329px;width:1px;height:19px;background:#333"></div>
<div class="r" style="left:1015px;top:347px;width:1px;height:20px;background:#333"></div>
<div class="r" style="left:1015px;top:366px;width:1px;height:19px;background:#333"></div>
<div class="r" style="left:1015px;top:384px;width:1px;height:19px;background:#333"></div>
<div class="r" style="left:1015px;top:402px;width:1px;height:20px;background:#333"></div>
<div class="c b" style="left:635.50px;width:63.35px;top:163.87px;height:18.39px;overflow:hidden;color:#111"><span style="left:50%;transform:translateX(-50%)"><i class="k" style="width:25.80px"><i>구분</i></i></span></div>
<div class="c b" style="left:698.85px;width:63.35px;top:163.87px;height:18.39px;overflow:hidden;color:#111"><span style="left:50%;transform:translateX(-50%)"><i class="k" style="width:38.70px"><i>재고명</i></i></span></div>
<div class="c b" style="left:762.20px;width:63.35px;top:163.87px;height:18.39px;overflow:hidden;color:#111"><span style="left:50%;transform:translateX(-50%)"><i class="k" style="width:25.80px"><i>기초</i></i></span></div>
<div class="c b" style="left:825.55px;width:63.35px;top:163.87px;height:18.39px;overflow:hidden;color:#111"><span style="left:50%;transform:translateX(-50%)"><i class="k" style="width:25.80px"><i>수입</i></i></span></div>
<div class="c b" style="left:888.90px;width:63.35px;top:163.87px;height:18.39px;overflow:hidden;color:#111"><span style="left:50%;transform:translateX(-50%)"><i class="k" style="width:25.80px"><i>사용</i></i></span></div>
<div class="c b" style="left:952.25px;width:63.35px;top:163.87px;height:18.39px;overflow:hidden;color:#111"><span style="left:50%;transform:translateX(-50%)"><i class="k" style="width:25.80px"><i>기말</i></i></span></div>
<div class="c" style="left:635.50px;width:63.35px;top:182.26px;height:18.39px;overflow:hidden;color:#111"><span style="left:2.5px"><i class="l" style="width:17.13px"><i>01.</i></i><i class="k" style="width:38.70px"><i>고기류</i></i></span></div>
<div class="c" style="left:698.85px;width:63.35px;top:182.26px;height:18.39px;overflow:hidden;color:#111"><span style="left:2.5px"><i class="k" style="width:64.50px"><i>한우소고기</i></i></span></div>
<div class="c" style="left:762.20px;width:63.35px;top:182.26px;height:18.39px;overflow:hidden;color:#111"><span style="right:1.8px"><i class="l" style="width:30.84px"><i>1,200</i></i></span></div>
<div class="c" style="left:825.55px;width:63.35px;top:182.26px;height:18.39px;overflow:hidden;color:#111"><span style="right:1.8px"><i class="l" style="width:37.69px"><i>21,000</i></i></span></div>
<div class="c" style="left:888.90px;width:63.35px;top:182.26px;height:18.39px;overflow:hidden;color:#111"><span style="right:1.8px"><i class="l" style="width:37.69px"><i>21,000</i></i></span></div>
<div class="c" style="left:952.25px;width:63.35px;top:182.26px;height:18.39px;overflow:hidden;color:#111"><span style="right:1.8px"><i class="l" style="width:30.84px"><i>1,200</i></i></span></div>
<div class="c" style="left:635.50px;width:63.35px;top:200.65px;height:18.39px;overflow:hidden;color:#111"><span style="left:2.5px"><i class="l" style="width:17.13px"><i>01.</i></i><i class="k" style="width:38.70px"><i>고기류</i></i></span></div>
<div class="c" style="left:698.85px;width:63.35px;top:200.65px;height:18.39px;overflow:hidden;color:#111"><span style="left:2.5px"><i class="k" style="width:64.50px"><i>육우소고기</i></i></span></div>
<div class="c" style="left:762.20px;width:63.35px;top:200.65px;height:18.39px;overflow:hidden;color:#111"><span style="right:1.8px"><i class="l" style="width:30.84px"><i>1,500</i></i></span></div>
<div class="c" style="left:825.55px;width:63.35px;top:200.65px;height:18.39px;overflow:hidden;color:#111"><span style="right:1.8px"><i class="l" style="width:44.54px"><i>135,000</i></i></span></div>
<div class="c" style="left:888.90px;width:63.35px;top:200.65px;height:18.39px;overflow:hidden;color:#111"><span style="right:1.8px"><i class="l" style="width:44.54px"><i>135,000</i></i></span></div>
<div class="c" style="left:952.25px;width:63.35px;top:200.65px;height:18.39px;overflow:hidden;color:#111"><span style="right:1.8px"><i class="l" style="width:30.84px"><i>1,500</i></i></span></div>
<div class="c" style="left:635.50px;width:63.35px;top:219.05px;height:18.39px;overflow:hidden;color:#111"><span style="left:2.5px"><i class="l" style="width:17.13px"><i>01.</i></i><i class="k" style="width:38.70px"><i>고기류</i></i></span></div>
<div class="c" style="left:698.85px;width:63.35px;top:219.05px;height:18.39px;overflow:hidden;color:#111"><span style="left:2.5px"><i class="k" style="width:51.60px"><i>돼지고기</i></i></span></div>
<div class="c" style="left:762.20px;width:63.35px;top:219.05px;height:18.39px;overflow:hidden;color:#111"><span style="right:1.8px"><i class="l" style="width:30.84px"><i>2,000</i></i></span></div>
<div class="c" style="left:825.55px;width:63.35px;top:219.05px;height:18.39px;overflow:hidden;color:#111"><span style="right:1.8px"><i class="l" style="width:44.54px"><i>270,000</i></i></span></div>
<div class="c" style="left:888.90px;width:63.35px;top:219.05px;height:18.39px;overflow:hidden;color:#111"><span style="right:1.8px"><i class="l" style="width:44.54px"><i>270,000</i></i></span></div>
<div class="c" style="left:952.25px;width:63.35px;top:219.05px;height:18.39px;overflow:hidden;color:#111"><span style="right:1.8px"><i class="l" style="width:30.84px"><i>2,000</i></i></span></div>
<div class="c" style="left:635.50px;width:63.35px;top:237.44px;height:18.39px;overflow:hidden;color:#111"><span style="left:2.5px"><i class="l" style="width:17.13px"><i>02.</i></i><i class="k" style="width:38.70px"><i>소스류</i></i></span></div>
<div class="c" style="left:698.85px;width:63.35px;top:237.44px;height:18.39px;overflow:hidden;color:#111"><span style="left:2.5px"><i class="k" style="width:64.50px"><i>비빔밥소스</i></i></span></div>
<div class="c" style="left:762.20px;width:63.35px;top:237.44px;height:18.39px;overflow:hidden;color:#111"><span style="right:1.8px"><i class="l" style="width:20.56px"><i>500</i></i></span></div>
<div class="c" style="left:825.55px;width:63.35px;top:237.44px;height:18.39px;overflow:hidden;color:#111"><span style="right:1.8px"><i class="l" style="width:30.84px"><i>6,000</i></i></span></div>
<div class="c" style="left:888.90px;width:63.35px;top:237.44px;height:18.39px;overflow:hidden;color:#111"><span style="right:1.8px"><i class="l" style="width:30.84px"><i>6,000</i></i></span></div>
<div class="c" style="left:952.25px;width:63.35px;top:237.44px;height:18.39px;overflow:hidden;color:#111"><span style="right:1.8px"><i class="l" style="width:20.56px"><i>500</i></i></span></div>
<div class="c" style="left:635.50px;width:63.35px;top:255.83px;height:18.39px;overflow:hidden;color:#111"><span style="left:2.5px"><i class="l" style="width:17.13px"><i>02.</i></i><i class="k" style="width:38.70px"><i>소스류</i></i></span></div>
<div class="c" style="left:698.85px;width:63.35px;top:255.83px;height:18.39px;overflow:hidden;color:#111"><span style="left:2.5px"><i class="k" style="width:51.60px"><i>간장소스</i></i></span></div>
<div class="c" style="left:762.20px;width:63.35px;top:255.83px;height:18.39px;overflow:hidden;color:#111"><span style="right:1.8px"><i class="l" style="width:20.56px"><i>500</i></i></span></div>
<div class="c" style="left:825.55px;width:63.35px;top:255.83px;height:18.39px;overflow:hidden;color:#111"><span style="right:1.8px"><i class="l" style="width:37.69px"><i>18,000</i></i></span></div>
<div class="c" style="left:888.90px;width:63.35px;top:255.83px;height:18.39px;overflow:hidden;color:#111"><span style="right:1.8px"><i class="l" style="width:37.69px"><i>18,000</i></i></span></div>
<div class="c" style="left:952.25px;width:63.35px;top:255.83px;height:18.39px;overflow:hidden;color:#111"><span style="right:1.8px"><i class="l" style="width:20.56px"><i>500</i></i></span></div>
<div class="c" style="left:635.50px;width:63.35px;top:274.22px;height:18.39px;overflow:hidden;color:#111"><span style="left:2.5px"><i class="l" style="width:17.13px"><i>02.</i></i><i class="k" style="width:38.70px"><i>소스류</i></i></span></div>
<div class="c" style="left:698.85px;width:63.35px;top:274.22px;height:18.39px;overflow:hidden;color:#111"><span style="left:2.5px"><i class="k" style="width:64.50px"><i>고추장소스</i></i></span></div>
<div class="c" style="left:762.20px;width:63.35px;top:274.22px;height:18.39px;overflow:hidden;color:#111"><span style="right:1.8px"><i class="l" style="width:30.84px"><i>1,200</i></i></span></div>
<div class="c" style="left:825.55px;width:63.35px;top:274.22px;height:18.39px;overflow:hidden;color:#111"><span style="right:1.8px"><i class="l" style="width:37.69px"><i>61,500</i></i></span></div>
<div class="c" style="left:888.90px;width:63.35px;top:274.22px;height:18.39px;overflow:hidden;color:#111"><span style="right:1.8px"><i class="l" style="width:37.69px"><i>61,500</i></i></span></div>
<div class="c" style="left:952.25px;width:63.35px;top:274.22px;height:18.39px;overflow:hidden;color:#111"><span style="right:1.8px"><i class="l" style="width:30.84px"><i>1,200</i></i></span></div>
<div class="c" style="left:635.50px;width:63.35px;top:292.62px;height:18.39px;overflow:hidden;color:#111"><span style="left:2.5px"><i class="l" style="width:17.13px"><i>03.</i></i><i class="k" style="width:25.80px"><i>기타</i></i></span></div>
<div class="c" style="left:698.85px;width:63.35px;top:292.62px;height:18.39px;overflow:hidden;color:#111"><span style="left:2.5px"><i class="k" style="width:38.70px"><i>참기름</i></i></span></div>
<div class="c" style="left:762.20px;width:63.35px;top:292.62px;height:18.39px;overflow:hidden;color:#111"><span style="right:1.8px"><i class="l" style="width:20.56px"><i>200</i></i></span></div>
<div class="c" style="left:825.55px;width:63.35px;top:292.62px;height:18.39px;overflow:hidden;color:#111"><span style="right:1.8px"><i class="l" style="width:30.84px"><i>1,000</i></i></span></div>
<div class="c" style="left:888.90px;width:63.35px;top:292.62px;height:18.39px;overflow:hidden;color:#111"><span style="right:1.8px"><i class="l" style="width:30.84px"><i>1,000</i></i></span></div>
<div class="c" style="left:952.25px;width:63.35px;top:292.62px;height:18.39px;overflow:hidden;color:#111"><span style="right:1.8px"><i class="l" style="width:20.56px"><i>200</i></i></span></div>
<div class="c" style="left:635.50px;width:63.35px;top:311.01px;height:18.39px;overflow:hidden;color:#111"><span style="left:2.5px"><i class="l" style="width:17.13px"><i>03.</i></i><i class="k" style="width:25.80px"><i>기타</i></i></span></div>
<div class="c" style="left:698.85px;width:63.35px;top:311.01px;height:18.39px;overflow:hidden;color:#111"><span style="left:2.5px"><i class="k" style="width:38.70px"><i>깨소금</i></i></span></div>
<div class="c" style="left:762.20px;width:63.35px;top:311.01px;height:18.39px;overflow:hidden;color:#111"><span style="right:1.8px"><i class="l" style="width:20.56px"><i>100</i></i></span></div>
<div class="c" style="left:825.55px;width:63.35px;top:311.01px;height:18.39px;overflow:hidden;color:#111"><span style="right:1.8px"><i class="l" style="width:30.84px"><i>1,000</i></i></span></div>
<div class="c" style="left:888.90px;width:63.35px;top:311.01px;height:18.39px;overflow:hidden;color:#111"><span style="right:1.8px"><i class="l" style="width:30.84px"><i>1,000</i></i></span></div>
<div class="c" style="left:952.25px;width:63.35px;top:311.01px;height:18.39px;overflow:hidden;color:#111"><span style="right:1.8px"><i class="l" style="width:20.56px"><i>100</i></i></span></div>
<div class="c" style="left:635.50px;width:63.35px;top:329.40px;height:18.39px;overflow:hidden;color:#111"><span style="left:2.5px"><i class="l" style="width:17.13px"><i>03.</i></i><i class="k" style="width:25.80px"><i>기타</i></i></span></div>
<div class="c" style="left:698.85px;width:63.35px;top:329.40px;height:18.39px;overflow:hidden;color:#111"><span style="left:2.5px"><i class="k" style="width:25.80px"><i>계란</i></i></span></div>
<div class="c" style="left:762.20px;width:63.35px;top:329.40px;height:18.39px;overflow:hidden;color:#111"><span style="right:1.8px"><i class="l" style="width:13.71px"><i>50</i></i></span></div>
<div class="c" style="left:825.55px;width:63.35px;top:329.40px;height:18.39px;overflow:hidden;color:#111"><span style="right:1.8px"><i class="l" style="width:20.56px"><i>200</i></i></span></div>
<div class="c" style="left:888.90px;width:63.35px;top:329.40px;height:18.39px;overflow:hidden;color:#111"><span style="right:1.8px"><i class="l" style="width:20.56px"><i>200</i></i></span></div>
<div class="c" style="left:952.25px;width:63.35px;top:329.40px;height:18.39px;overflow:hidden;color:#111"><span style="right:1.8px"><i class="l" style="width:13.71px"><i>50</i></i></span></div>
<div class="c" style="left:635.50px;width:63.35px;top:347.80px;height:18.39px;overflow:hidden;color:#111"><span style="left:2.5px"><i class="l" style="width:17.13px"><i>03.</i></i><i class="k" style="width:25.80px"><i>기타</i></i></span></div>
<div class="c" style="left:698.85px;width:63.35px;top:347.80px;height:18.39px;overflow:hidden;color:#111"><span style="left:2.5px"><i class="l" style="width:16.44px"><i>AA</i></i></span></div>
<div class="c" style="left:762.20px;width:63.35px;top:347.80px;height:18.39px;overflow:hidden;color:#111"><span style="right:1.8px"><i class="l" style="width:13.71px"><i>30</i></i></span></div>
<div class="c" style="left:825.55px;width:63.35px;top:347.80px;height:18.39px;overflow:hidden;color:#111"><span style="right:1.8px"><i class="l" style="width:20.56px"><i>150</i></i></span></div>
<div class="c" style="left:888.90px;width:63.35px;top:347.80px;height:18.39px;overflow:hidden;color:#111"><span style="right:1.8px"><i class="l" style="width:20.56px"><i>150</i></i></span></div>
<div class="c" style="left:952.25px;width:63.35px;top:347.80px;height:18.39px;overflow:hidden;color:#111"><span style="right:1.8px"><i class="l" style="width:13.71px"><i>30</i></i></span></div>
<div class="c" style="left:635.50px;width:63.35px;top:366.19px;height:18.39px;overflow:hidden;color:#111"><span style="left:2.5px"><i class="l" style="width:17.13px"><i>03.</i></i><i class="k" style="width:25.80px"><i>기타</i></i></span></div>
<div class="c" style="left:698.85px;width:63.35px;top:366.19px;height:18.39px;overflow:hidden;color:#111"><span style="left:2.5px"><i class="l" style="width:16.44px"><i>AB</i></i></span></div>
<div class="c" style="left:762.20px;width:63.35px;top:366.19px;height:18.39px;overflow:hidden;color:#111"><span style="right:1.8px"><i class="l" style="width:13.71px"><i>20</i></i></span></div>
<div class="c" style="left:825.55px;width:63.35px;top:366.19px;height:18.39px;overflow:hidden;color:#111"><span style="right:1.8px"><i class="l" style="width:20.56px"><i>100</i></i></span></div>
<div class="c" style="left:888.90px;width:63.35px;top:366.19px;height:18.39px;overflow:hidden;color:#111"><span style="right:1.8px"><i class="l" style="width:20.56px"><i>100</i></i></span></div>
<div class="c" style="left:952.25px;width:63.35px;top:366.19px;height:18.39px;overflow:hidden;color:#111"><span style="right:1.8px"><i class="l" style="width:13.71px"><i>20</i></i></span></div>
<div class="c" style="left:635.50px;width:63.35px;top:384.58px;height:18.39px;overflow:hidden;color:#111"><span style="left:2.5px"><i class="l" style="width:17.13px"><i>03.</i></i><i class="k" style="width:25.80px"><i>기타</i></i></span></div>
<div class="c" style="left:698.85px;width:63.35px;top:384.58px;height:18.39px;overflow:hidden;color:#111"><span style="left:2.5px"><i class="l" style="width:17.12px"><i>AC</i></i></span></div>
<div class="c" style="left:762.20px;width:63.35px;top:384.58px;height:18.39px;overflow:hidden;color:#111"><span style="right:1.8px"><i class="l" style="width:13.71px"><i>20</i></i></span></div>
<div class="c" style="left:825.55px;width:63.35px;top:384.58px;height:18.39px;overflow:hidden;color:#111"><span style="right:1.8px"><i class="l" style="width:20.56px"><i>120</i></i></span></div>
<div class="c" style="left:888.90px;width:63.35px;top:384.58px;height:18.39px;overflow:hidden;color:#111"><span style="right:1.8px"><i class="l" style="width:20.56px"><i>120</i></i></span></div>
<div class="c" style="left:952.25px;width:63.35px;top:384.58px;height:18.39px;overflow:hidden;color:#111"><span style="right:1.8px"><i class="l" style="width:13.71px"><i>20</i></i></span></div>
<div class="c" style="left:635.50px;width:63.35px;top:402.97px;height:18.39px;overflow:hidden;color:#111"><span style="left:2.5px"><i class="l" style="width:17.13px"><i>03.</i></i><i class="k" style="width:25.80px"><i>기타</i></i></span></div>
<div class="c" style="left:698.85px;width:63.35px;top:402.97px;height:18.39px;overflow:hidden;color:#111"><span style="left:2.5px"><i class="l" style="width:16.44px"><i>BA</i></i></span></div>
<div class="c" style="left:762.20px;width:63.35px;top:402.97px;height:18.39px;overflow:hidden;color:#111"><span style="right:1.8px"><i class="l" style="width:13.71px"><i>20</i></i></span></div>
<div class="c" style="left:825.55px;width:63.35px;top:402.97px;height:18.39px;overflow:hidden;color:#111"><span style="right:1.8px"><i class="l" style="width:13.71px"><i>80</i></i></span></div>
<div class="c" style="left:888.90px;width:63.35px;top:402.97px;height:18.39px;overflow:hidden;color:#111"><span style="right:1.8px"><i class="l" style="width:13.71px"><i>80</i></i></span></div>
<div class="c" style="left:952.25px;width:63.35px;top:402.97px;height:18.39px;overflow:hidden;color:#111"><span style="right:1.8px"><i class="l" style="width:13.71px"><i>20</i></i></span></div>
<div class="r" style="left:1078px;top:163px;width:191px;height:19px;background:#b4c6e7"></div>
<div class="r" style="left:1078px;top:237px;width:191px;height:18px;background:#fce4d6"></div>
<div class="r" style="left:1078px;top:255px;width:191px;height:19px;background:#fce4d6"></div>
<div class="r" style="left:1078px;top:274px;width:191px;height:18px;background:#fce4d6"></div>
<div class="r" style="left:1078px;top:163px;width:191px;height:1px;background:#333"></div>
<div class="r" style="left:1078px;top:182px;width:191px;height:1px;background:#333"></div>
<div class="r" style="left:1078px;top:199px;width:191px;height:2px;background:#333"></div>
<div class="r" style="left:1078px;top:219px;width:191px;height:1px;background:#333"></div>
<div class="r" style="left:1078px;top:237px;width:191px;height:1px;background:#333"></div>
<div class="r" style="left:1078px;top:255px;width:191px;height:1px;background:#333"></div>
<div class="r" style="left:1078px;top:274px;width:191px;height:1px;background:#333"></div>
<div class="r" style="left:1078px;top:292px;width:191px;height:1px;background:#333"></div>
<div class="r" style="left:1078px;top:311px;width:191px;height:1px;background:#333"></div>
<div class="r" style="left:1078px;top:329px;width:191px;height:1px;background:#333"></div>
<div class="r" style="left:1078px;top:347px;width:191px;height:1px;background:#333"></div>
<div class="r" style="left:1078px;top:366px;width:191px;height:1px;background:#333"></div>
<div class="r" style="left:1078px;top:384px;width:191px;height:1px;background:#333"></div>
<div class="r" style="left:1078px;top:402px;width:191px;height:1px;background:#333"></div>
<div class="r" style="left:1078px;top:421px;width:191px;height:1px;background:#333"></div>
<div class="r" style="left:1078px;top:163px;width:1px;height:20px;background:#333"></div>
<div class="r" style="left:1078px;top:182px;width:1px;height:19px;background:#333"></div>
<div class="r" style="left:1078px;top:200px;width:1px;height:20px;background:#333"></div>
<div class="r" style="left:1078px;top:219px;width:1px;height:19px;background:#333"></div>
<div class="r" style="left:1078px;top:237px;width:1px;height:19px;background:#333"></div>
<div class="r" style="left:1078px;top:255px;width:1px;height:20px;background:#333"></div>
<div class="r" style="left:1078px;top:274px;width:1px;height:19px;background:#333"></div>
<div class="r" style="left:1078px;top:292px;width:1px;height:20px;background:#333"></div>
<div class="r" style="left:1078px;top:311px;width:1px;height:19px;background:#333"></div>
<div class="r" style="left:1078px;top:329px;width:1px;height:19px;background:#333"></div>
<div class="r" style="left:1078px;top:347px;width:1px;height:20px;background:#333"></div>
<div class="r" style="left:1078px;top:366px;width:1px;height:19px;background:#333"></div>
<div class="r" style="left:1078px;top:384px;width:1px;height:19px;background:#333"></div>
<div class="r" style="left:1078px;top:402px;width:1px;height:20px;background:#333"></div>
<div class="r" style="left:1142px;top:163px;width:1px;height:20px;background:#333"></div>
<div class="r" style="left:1142px;top:182px;width:1px;height:19px;background:#333"></div>
<div class="r" style="left:1142px;top:200px;width:1px;height:20px;background:#333"></div>
<div class="r" style="left:1142px;top:219px;width:1px;height:19px;background:#333"></div>
<div class="r" style="left:1142px;top:237px;width:1px;height:19px;background:#333"></div>
<div class="r" style="left:1142px;top:255px;width:1px;height:20px;background:#333"></div>
<div class="r" style="left:1142px;top:274px;width:1px;height:19px;background:#333"></div>
<div class="r" style="left:1142px;top:292px;width:1px;height:20px;background:#333"></div>
<div class="r" style="left:1142px;top:311px;width:1px;height:19px;background:#333"></div>
<div class="r" style="left:1142px;top:329px;width:1px;height:19px;background:#333"></div>
<div class="r" style="left:1142px;top:347px;width:1px;height:20px;background:#333"></div>
<div class="r" style="left:1142px;top:366px;width:1px;height:19px;background:#333"></div>
<div class="r" style="left:1142px;top:384px;width:1px;height:19px;background:#333"></div>
<div class="r" style="left:1142px;top:402px;width:1px;height:20px;background:#333"></div>
<div class="r" style="left:1205px;top:163px;width:1px;height:20px;background:#333"></div>
<div class="r" style="left:1205px;top:182px;width:1px;height:19px;background:#333"></div>
<div class="r" style="left:1205px;top:200px;width:1px;height:20px;background:#333"></div>
<div class="r" style="left:1205px;top:219px;width:1px;height:19px;background:#333"></div>
<div class="r" style="left:1205px;top:237px;width:1px;height:19px;background:#333"></div>
<div class="r" style="left:1205px;top:255px;width:1px;height:20px;background:#333"></div>
<div class="r" style="left:1205px;top:274px;width:1px;height:19px;background:#333"></div>
<div class="r" style="left:1205px;top:292px;width:1px;height:20px;background:#333"></div>
<div class="r" style="left:1205px;top:311px;width:1px;height:19px;background:#333"></div>
<div class="r" style="left:1205px;top:329px;width:1px;height:19px;background:#333"></div>
<div class="r" style="left:1205px;top:347px;width:1px;height:20px;background:#333"></div>
<div class="r" style="left:1205px;top:366px;width:1px;height:19px;background:#333"></div>
<div class="r" style="left:1205px;top:384px;width:1px;height:19px;background:#333"></div>
<div class="r" style="left:1205px;top:402px;width:1px;height:20px;background:#333"></div>
<div class="r" style="left:1268px;top:163px;width:1px;height:20px;background:#333"></div>
<div class="r" style="left:1268px;top:182px;width:1px;height:19px;background:#333"></div>
<div class="r" style="left:1268px;top:200px;width:1px;height:20px;background:#333"></div>
<div class="r" style="left:1268px;top:219px;width:1px;height:19px;background:#333"></div>
<div class="r" style="left:1268px;top:237px;width:1px;height:19px;background:#333"></div>
<div class="r" style="left:1268px;top:255px;width:1px;height:20px;background:#333"></div>
<div class="r" style="left:1268px;top:274px;width:1px;height:19px;background:#333"></div>
<div class="r" style="left:1268px;top:292px;width:1px;height:20px;background:#333"></div>
<div class="r" style="left:1268px;top:311px;width:1px;height:19px;background:#333"></div>
<div class="r" style="left:1268px;top:329px;width:1px;height:19px;background:#333"></div>
<div class="r" style="left:1268px;top:347px;width:1px;height:20px;background:#333"></div>
<div class="r" style="left:1268px;top:366px;width:1px;height:19px;background:#333"></div>
<div class="r" style="left:1268px;top:384px;width:1px;height:19px;background:#333"></div>
<div class="r" style="left:1268px;top:402px;width:1px;height:20px;background:#333"></div>
<div class="c b" style="left:1078.95px;width:63.35px;top:163.87px;height:18.39px;overflow:hidden;color:#111"><span style="left:50%;transform:translateX(-50%)"><i class="k" style="width:25.80px"><i>수량</i></i></span></div>
<div class="c b" style="left:1142.30px;width:63.35px;top:163.87px;height:18.39px;overflow:hidden;color:#111"><span style="left:50%;transform:translateX(-50%)"><i class="k" style="width:25.80px"><i>금액</i></i></span></div>
<div class="c b" style="left:1205.65px;width:63.35px;top:163.87px;height:18.39px;overflow:hidden;color:#111"><span style="left:50%;transform:translateX(-50%)"><i class="k" style="width:25.80px"><i>단가</i></i></span></div>
<div class="c" style="left:1078.95px;width:63.35px;top:182.26px;height:18.39px;overflow:hidden;color:#111"><span style="right:1.8px"><i class="l" style="width:37.69px"><i>21,000</i></i></span></div>
<div class="c" style="left:1142.30px;width:63.35px;top:182.26px;height:18.39px;overflow:hidden;color:#111"><span style="right:1.8px"><i class="l" style="width:44.54px"><i>805,000</i></i></span></div>
<div class="c" style="left:1205.65px;width:63.35px;top:182.26px;height:18.39px;overflow:hidden;color:#111"><span style="right:1.8px"><i class="l" style="width:23.98px"><i>38.3</i></i></span></div>
<div class="c" style="left:1078.95px;width:63.35px;top:200.65px;height:18.39px;overflow:hidden;color:#111"><span style="right:1.8px"><i class="l" style="width:44.54px"><i>135,000</i></i></span></div>
<div class="c" style="left:1142.30px;width:63.35px;top:200.65px;height:18.39px;overflow:hidden;color:#111"><span style="right:1.8px"><i class="l" style="width:54.82px"><i>3,232,500</i></i></span></div>
<div class="c" style="left:1205.65px;width:63.35px;top:200.65px;height:18.39px;overflow:hidden;color:#111"><span style="right:1.8px"><i class="l" style="width:23.98px"><i>23.9</i></i></span></div>
<div class="c" style="left:1078.95px;width:63.35px;top:219.05px;height:18.39px;overflow:hidden;color:#111"><span style="right:1.8px"><i class="l" style="width:44.54px"><i>270,000</i></i></span></div>
<div class="c" style="left:1142.30px;width:63.35px;top:219.05px;height:18.39px;overflow:hidden;color:#111"><span style="right:1.8px"><i class="l" style="width:54.82px"><i>5,585,000</i></i></span></div>
<div class="c" style="left:1205.65px;width:63.35px;top:219.05px;height:18.39px;overflow:hidden;color:#111"><span style="right:1.8px"><i class="l" style="width:23.98px"><i>20.7</i></i></span></div>
<div class="c" style="left:1078.95px;width:63.35px;top:237.44px;height:18.39px;overflow:hidden;color:#111"><span style="right:1.8px"><i class="l" style="width:30.84px"><i>6,000</i></i></span></div>
<div class="c" style="left:1142.30px;width:63.35px;top:237.44px;height:18.39px;overflow:hidden;color:#111"><span style="right:1.8px"><i class="l" style="width:37.69px"><i>60,000</i></i></span></div>
<div class="c" style="left:1205.65px;width:63.35px;top:237.44px;height:18.39px;overflow:hidden;color:#111"><span style="right:1.8px"><i class="l" style="width:23.98px"><i>10.0</i></i></span></div>
<div class="c" style="left:1078.95px;width:63.35px;top:255.83px;height:18.39px;overflow:hidden;color:#111"><span style="right:1.8px"><i class="l" style="width:37.69px"><i>18,000</i></i></span></div>
<div class="c" style="left:1142.30px;width:63.35px;top:255.83px;height:18.39px;overflow:hidden;color:#111"><span style="right:1.8px"><i class="l" style="width:44.54px"><i>144,000</i></i></span></div>
<div class="c" style="left:1205.65px;width:63.35px;top:255.83px;height:18.39px;overflow:hidden;color:#111"><span style="right:1.8px"><i class="l" style="width:17.13px"><i>8.0</i></i></span></div>
<div class="c" style="left:1078.95px;width:63.35px;top:274.22px;height:18.39px;overflow:hidden;color:#111"><span style="right:1.8px"><i class="l" style="width:37.69px"><i>61,500</i></i></span></div>
<div class="c" style="left:1142.30px;width:63.35px;top:274.22px;height:18.39px;overflow:hidden;color:#111"><span style="right:1.8px"><i class="l" style="width:44.54px"><i>430,500</i></i></span></div>
<div class="c" style="left:1205.65px;width:63.35px;top:274.22px;height:18.39px;overflow:hidden;color:#111"><span style="right:1.8px"><i class="l" style="width:17.13px"><i>7.0</i></i></span></div>
<div class="c" style="left:1078.95px;width:63.35px;top:292.62px;height:18.39px;overflow:hidden;color:#111"><span style="right:1.8px"><i class="l" style="width:30.84px"><i>1,000</i></i></span></div>
<div class="c" style="left:1142.30px;width:63.35px;top:292.62px;height:18.39px;overflow:hidden;color:#111"><span style="right:1.8px"><i class="l" style="width:37.69px"><i>12,000</i></i></span></div>
<div class="c" style="left:1205.65px;width:63.35px;top:292.62px;height:18.39px;overflow:hidden;color:#111"><span style="right:1.8px"><i class="l" style="width:23.98px"><i>12.0</i></i></span></div>
<div class="c" style="left:1078.95px;width:63.35px;top:311.01px;height:18.39px;overflow:hidden;color:#111"><span style="right:1.8px"><i class="l" style="width:30.84px"><i>1,000</i></i></span></div>
<div class="c" style="left:1142.30px;width:63.35px;top:311.01px;height:18.39px;overflow:hidden;color:#111"><span style="right:1.8px"><i class="l" style="width:37.69px"><i>10,000</i></i></span></div>
<div class="c" style="left:1205.65px;width:63.35px;top:311.01px;height:18.39px;overflow:hidden;color:#111"><span style="right:1.8px"><i class="l" style="width:23.98px"><i>10.0</i></i></span></div>
<div class="c" style="left:1078.95px;width:63.35px;top:329.40px;height:18.39px;overflow:hidden;color:#111"><span style="right:1.8px"><i class="l" style="width:20.56px"><i>200</i></i></span></div>
<div class="c" style="left:1142.30px;width:63.35px;top:329.40px;height:18.39px;overflow:hidden;color:#111"><span style="right:1.8px"><i class="l" style="width:37.69px"><i>30,000</i></i></span></div>
<div class="c" style="left:1205.65px;width:63.35px;top:329.40px;height:18.39px;overflow:hidden;color:#111"><span style="right:1.8px"><i class="l" style="width:30.84px"><i>150.0</i></i></span></div>
<div class="c" style="left:1078.95px;width:63.35px;top:347.80px;height:18.39px;overflow:hidden;color:#111"><span style="right:1.8px"><i class="l" style="width:20.56px"><i>150</i></i></span></div>
<div class="c" style="left:1142.30px;width:63.35px;top:347.80px;height:18.39px;overflow:hidden;color:#111"><span style="right:1.8px"><i class="l" style="width:30.84px"><i>2,250</i></i></span></div>
<div class="c" style="left:1205.65px;width:63.35px;top:347.80px;height:18.39px;overflow:hidden;color:#111"><span style="right:1.8px"><i class="l" style="width:23.98px"><i>15.0</i></i></span></div>
<div class="c" style="left:1078.95px;width:63.35px;top:366.19px;height:18.39px;overflow:hidden;color:#111"><span style="right:1.8px"><i class="l" style="width:20.56px"><i>100</i></i></span></div>
<div class="c" style="left:1142.30px;width:63.35px;top:366.19px;height:18.39px;overflow:hidden;color:#111"><span style="right:1.8px"><i class="l" style="width:30.84px"><i>1,000</i></i></span></div>
<div class="c" style="left:1205.65px;width:63.35px;top:366.19px;height:18.39px;overflow:hidden;color:#111"><span style="right:1.8px"><i class="l" style="width:23.98px"><i>10.0</i></i></span></div>
<div class="c" style="left:1078.95px;width:63.35px;top:384.58px;height:18.39px;overflow:hidden;color:#111"><span style="right:1.8px"><i class="l" style="width:20.56px"><i>120</i></i></span></div>
<div class="c" style="left:1142.30px;width:63.35px;top:384.58px;height:18.39px;overflow:hidden;color:#111"><span style="right:1.8px"><i class="l" style="width:20.56px"><i>960</i></i></span></div>
<div class="c" style="left:1205.65px;width:63.35px;top:384.58px;height:18.39px;overflow:hidden;color:#111"><span style="right:1.8px"><i class="l" style="width:17.13px"><i>8.0</i></i></span></div>
<div class="c" style="left:1078.95px;width:63.35px;top:402.97px;height:18.39px;overflow:hidden;color:#111"><span style="right:1.8px"><i class="l" style="width:13.71px"><i>80</i></i></span></div>
<div class="c" style="left:1142.30px;width:63.35px;top:402.97px;height:18.39px;overflow:hidden;color:#111"><span style="right:1.8px"><i class="l" style="width:30.84px"><i>1,600</i></i></span></div>
<div class="c" style="left:1205.65px;width:63.35px;top:402.97px;height:18.39px;overflow:hidden;color:#111"><span style="right:1.8px"><i class="l" style="width:23.98px"><i>20.0</i></i></span></div>
<div class="c" style="left:698.85px;width:126.70px;top:439.76px;height:18.39px;overflow:hidden;color:#111"><span style="left:2.5px"><i class="k" style="width:38.70px"><i>공기밥</i></i></span></div>
<div class="c" style="left:698.85px;width:126.70px;top:458.15px;height:18.39px;overflow:hidden;color:#111"><span style="left:2.5px"><i class="k" style="width:51.60px"><i>기본반찬</i></i></span></div>
<div class="c" style="left:1205.65px;width:63.35px;top:439.76px;height:18.39px;overflow:hidden;color:#111"><span style="right:1.8px"><i class="l" style="width:20.56px"><i>400</i></i></span></div>
<div class="c" style="left:1205.65px;width:63.35px;top:458.15px;height:18.39px;overflow:hidden;color:#111"><span style="right:1.8px"><i class="l" style="width:20.56px"><i>578</i></i></span></div>
<div class="r" style="left:635px;top:531px;width:443px;height:19px;background:#b4c6e7"></div>
<div class="r" style="left:635px;top:678px;width:443px;height:19px;background:#f8cbad"></div>
<div class="r" style="left:635px;top:531px;width:444px;height:1px;background:#333"></div>
<div class="r" style="left:635px;top:550px;width:444px;height:1px;background:#333"></div>
<div class="r" style="left:635px;top:568px;width:444px;height:1px;background:#333"></div>
<div class="r" style="left:635px;top:586px;width:444px;height:1px;background:#333"></div>
<div class="r" style="left:635px;top:605px;width:444px;height:1px;background:#333"></div>
<div class="r" style="left:635px;top:623px;width:444px;height:1px;background:#333"></div>
<div class="r" style="left:635px;top:642px;width:444px;height:1px;background:#333"></div>
<div class="r" style="left:635px;top:660px;width:444px;height:1px;background:#333"></div>
<div class="r" style="left:635px;top:678px;width:444px;height:1px;background:#333"></div>
<div class="r" style="left:635px;top:697px;width:444px;height:1px;background:#333"></div>
<div class="r" style="left:635px;top:531px;width:1px;height:20px;background:#333"></div>
<div class="r" style="left:635px;top:550px;width:1px;height:19px;background:#333"></div>
<div class="r" style="left:635px;top:568px;width:1px;height:19px;background:#333"></div>
<div class="r" style="left:635px;top:586px;width:1px;height:20px;background:#333"></div>
<div class="r" style="left:635px;top:605px;width:1px;height:19px;background:#333"></div>
<div class="r" style="left:635px;top:623px;width:1px;height:20px;background:#333"></div>
<div class="r" style="left:635px;top:642px;width:1px;height:19px;background:#333"></div>
<div class="r" style="left:635px;top:660px;width:1px;height:19px;background:#333"></div>
<div class="r" style="left:635px;top:678px;width:1px;height:20px;background:#333"></div>
<div class="r" style="left:698px;top:531px;width:1px;height:20px;background:#333"></div>
<div class="r" style="left:698px;top:550px;width:1px;height:19px;background:#333"></div>
<div class="r" style="left:698px;top:568px;width:1px;height:19px;background:#333"></div>
<div class="r" style="left:698px;top:586px;width:1px;height:20px;background:#333"></div>
<div class="r" style="left:698px;top:605px;width:1px;height:19px;background:#333"></div>
<div class="r" style="left:698px;top:623px;width:1px;height:20px;background:#333"></div>
<div class="r" style="left:698px;top:642px;width:1px;height:19px;background:#333"></div>
<div class="r" style="left:698px;top:660px;width:1px;height:19px;background:#333"></div>
<div class="r" style="left:698px;top:678px;width:1px;height:20px;background:#333"></div>
<div class="r" style="left:762px;top:531px;width:1px;height:20px;background:#333"></div>
<div class="r" style="left:762px;top:550px;width:1px;height:19px;background:#333"></div>
<div class="r" style="left:762px;top:568px;width:1px;height:19px;background:#333"></div>
<div class="r" style="left:762px;top:586px;width:1px;height:20px;background:#333"></div>
<div class="r" style="left:762px;top:605px;width:1px;height:19px;background:#333"></div>
<div class="r" style="left:762px;top:623px;width:1px;height:20px;background:#333"></div>
<div class="r" style="left:762px;top:642px;width:1px;height:19px;background:#333"></div>
<div class="r" style="left:762px;top:660px;width:1px;height:19px;background:#333"></div>
<div class="r" style="left:762px;top:678px;width:1px;height:20px;background:#333"></div>
<div class="r" style="left:825px;top:531px;width:1px;height:20px;background:#333"></div>
<div class="r" style="left:825px;top:550px;width:1px;height:19px;background:#333"></div>
<div class="r" style="left:825px;top:568px;width:1px;height:19px;background:#333"></div>
<div class="r" style="left:825px;top:586px;width:1px;height:20px;background:#333"></div>
<div class="r" style="left:825px;top:605px;width:1px;height:19px;background:#333"></div>
<div class="r" style="left:825px;top:623px;width:1px;height:20px;background:#333"></div>
<div class="r" style="left:825px;top:642px;width:1px;height:19px;background:#333"></div>
<div class="r" style="left:825px;top:660px;width:1px;height:19px;background:#333"></div>
<div class="r" style="left:825px;top:678px;width:1px;height:20px;background:#333"></div>
<div class="r" style="left:888px;top:531px;width:1px;height:20px;background:#333"></div>
<div class="r" style="left:888px;top:550px;width:1px;height:19px;background:#333"></div>
<div class="r" style="left:888px;top:568px;width:1px;height:19px;background:#333"></div>
<div class="r" style="left:888px;top:586px;width:1px;height:20px;background:#333"></div>
<div class="r" style="left:888px;top:605px;width:1px;height:19px;background:#333"></div>
<div class="r" style="left:888px;top:623px;width:1px;height:20px;background:#333"></div>
<div class="r" style="left:888px;top:642px;width:1px;height:19px;background:#333"></div>
<div class="r" style="left:888px;top:660px;width:1px;height:19px;background:#333"></div>
<div class="r" style="left:888px;top:678px;width:1px;height:20px;background:#333"></div>
<div class="r" style="left:952px;top:531px;width:1px;height:20px;background:#333"></div>
<div class="r" style="left:952px;top:550px;width:1px;height:19px;background:#333"></div>
<div class="r" style="left:952px;top:568px;width:1px;height:19px;background:#333"></div>
<div class="r" style="left:952px;top:586px;width:1px;height:20px;background:#333"></div>
<div class="r" style="left:952px;top:605px;width:1px;height:19px;background:#333"></div>
<div class="r" style="left:952px;top:623px;width:1px;height:20px;background:#333"></div>
<div class="r" style="left:952px;top:642px;width:1px;height:19px;background:#333"></div>
<div class="r" style="left:952px;top:660px;width:1px;height:19px;background:#333"></div>
<div class="r" style="left:952px;top:678px;width:1px;height:20px;background:#333"></div>
<div class="r" style="left:1078px;top:531px;width:1px;height:20px;background:#333"></div>
<div class="r" style="left:1078px;top:550px;width:1px;height:19px;background:#333"></div>
<div class="r" style="left:1078px;top:568px;width:1px;height:19px;background:#333"></div>
<div class="r" style="left:1078px;top:586px;width:1px;height:20px;background:#333"></div>
<div class="r" style="left:1078px;top:605px;width:1px;height:19px;background:#333"></div>
<div class="r" style="left:1078px;top:623px;width:1px;height:20px;background:#333"></div>
<div class="r" style="left:1078px;top:642px;width:1px;height:19px;background:#333"></div>
<div class="r" style="left:1078px;top:660px;width:1px;height:19px;background:#333"></div>
<div class="r" style="left:1078px;top:678px;width:1px;height:20px;background:#333"></div>
<div class="c" style="left:698.85px;width:63.35px;top:531.73px;height:18.39px;overflow:hidden;color:#111"><span style="left:2.5px"><i class="k" style="width:25.80px"><i>단가</i></i><i class="l" style="width:31.50px"><i>(/box)</i></i></span></div>
<div class="c" style="left:762.20px;width:63.35px;top:531.73px;height:18.39px;overflow:hidden;color:#111"><span style="left:2.5px"><i class="k" style="width:25.80px"><i>단가</i></i><i class="l" style="width:14.38px"><i>(/1</i></i><i class="k" style="width:25.80px"><i>인분</i></i><i class="l" style="width:4.10px"><i>)</i></i></span></div>
<div class="c" style="left:825.55px;width:63.35px;top:531.73px;height:18.39px;overflow:hidden;color:#111"><span style="left:2.5px"><i class="k" style="width:38.70px"><i>구매량</i></i><i class="l" style="width:28.07px"><i>(box)</i></i></span></div>
<div class="c" style="left:888.90px;width:63.35px;top:531.73px;height:18.39px;overflow:hidden;color:#111"><span style="left:2.5px"><i class="k" style="width:51.60px"><i>구매금액</i></i><i class="l" style="width:19.84px"><i>(₩)</i></i></span></div>
<div class="c" style="left:635.50px;width:63.35px;top:550.12px;height:18.39px;overflow:hidden;color:#111"><span style="left:2.5px"><i class="k" style="width:25.80px"><i>김치</i></i></span></div>
<div class="c" style="left:698.85px;width:63.35px;top:550.12px;height:18.39px;overflow:hidden;color:#111"><span style="right:1.8px"><i class="l" style="width:37.69px"><i>12,000</i></i></span></div>
<div class="c" style="left:762.20px;width:63.35px;top:550.12px;height:18.39px;overflow:hidden;color:#111"><span style="right:1.8px"><i class="l" style="width:20.56px"><i>120</i></i></span></div>
<div class="c" style="left:635.50px;width:63.35px;top:568.51px;height:18.39px;overflow:hidden;color:#111"><span style="left:2.5px"><i class="k" style="width:38.70px"><i>깍두기</i></i></span></div>
<div class="c" style="left:698.85px;width:63.35px;top:568.51px;height:18.39px;overflow:hidden;color:#111"><span style="right:1.8px"><i class="l" style="width:37.69px"><i>11,000</i></i></span></div>
<div class="c" style="left:762.20px;width:63.35px;top:568.51px;height:18.39px;overflow:hidden;color:#111"><span style="right:1.8px"><i class="l" style="width:20.56px"><i>110</i></i></span></div>
<div class="c" style="left:635.50px;width:63.35px;top:586.91px;height:18.39px;overflow:hidden;color:#111"><span style="left:2.5px"><i class="k" style="width:25.80px"><i>상추</i></i><i class="l" style="width:3.42px"><i>/</i></i><i class="k" style="width:25.80px"><i>깻잎</i></i></span></div>
<div class="c" style="left:698.85px;width:63.35px;top:586.91px;height:18.39px;overflow:hidden;color:#111"><span style="right:1.8px"><i class="l" style="width:30.84px"><i>7,500</i></i></span></div>
<div class="c" style="left:762.20px;width:63.35px;top:586.91px;height:18.39px;overflow:hidden;color:#111"><span style="right:1.8px"><i class="l" style="width:13.71px"><i>75</i></i></span></div>
<div class="c" style="left:635.50px;width:63.35px;top:605.30px;height:18.39px;overflow:hidden;color:#111"><span style="left:2.5px"><i class="k" style="width:25.80px"><i>된장</i></i></span></div>
<div class="c" style="left:698.85px;width:63.35px;top:605.30px;height:18.39px;overflow:hidden;color:#111"><span style="right:1.8px"><i class="l" style="width:30.84px"><i>5,000</i></i></span></div>
<div class="c" style="left:762.20px;width:63.35px;top:605.30px;height:18.39px;overflow:hidden;color:#111"><span style="right:1.8px"><i class="l" style="width:13.71px"><i>50</i></i></span></div>
<div class="c" style="left:635.50px;width:63.35px;top:623.69px;height:18.39px;overflow:hidden;color:#111"><span style="left:2.5px"><i class="k" style="width:51.60px"><i>오뎅볶음</i></i></span></div>
<div class="c" style="left:698.85px;width:63.35px;top:623.69px;height:18.39px;overflow:hidden;color:#111"><span style="right:1.8px"><i class="l" style="width:37.69px"><i>15,500</i></i></span></div>
<div class="c" style="left:762.20px;width:63.35px;top:623.69px;height:18.39px;overflow:hidden;color:#111"><span style="right:1.8px"><i class="l" style="width:20.56px"><i>155</i></i></span></div>
<div class="c" style="left:635.50px;width:63.35px;top:642.08px;height:18.39px;overflow:hidden;color:#111"><span style="left:2.5px"><i class="k" style="width:25.80px"><i>양파</i></i></span></div>
<div class="c" style="left:698.85px;width:63.35px;top:642.08px;height:18.39px;overflow:hidden;color:#111"><span style="right:1.8px"><i class="l" style="width:30.84px"><i>3,600</i></i></span></div>
<div class="c" style="left:762.20px;width:63.35px;top:642.08px;height:18.39px;overflow:hidden;color:#111"><span style="right:1.8px"><i class="l" style="width:13.71px"><i>36</i></i></span></div>
<div class="c" style="left:635.50px;width:63.35px;top:660.48px;height:18.39px;overflow:hidden;color:#111"><span style="left:2.5px"><i class="k" style="width:25.80px"><i>기타</i></i></span></div>
<div class="c" style="left:698.85px;width:63.35px;top:660.48px;height:18.39px;overflow:hidden;color:#111"><span style="right:1.8px"><i class="l" style="width:30.84px"><i>3,200</i></i></span></div>
<div class="c" style="left:762.20px;width:63.35px;top:660.48px;height:18.39px;overflow:hidden;color:#111"><span style="right:1.8px"><i class="l" style="width:13.71px"><i>32</i></i></span></div>
<div class="c" style="left:635.50px;width:63.35px;top:678.87px;height:18.39px;overflow:hidden;color:#111"><span style="left:2.5px"><i class="k" style="width:12.90px"><i>계</i></i></span></div>
<div class="c" style="left:762.20px;width:63.35px;top:678.87px;height:18.39px;overflow:hidden;color:#111"><span style="right:1.8px"><i class="l" style="width:20.56px"><i>578</i></i></span></div>
<div class="c" style="left:952.25px;width:126.70px;top:550.12px;height:18.39px;overflow:hidden;color:#111"><span style="left:2.5px"><i class="l" style="width:20.56px"><i>100</i></i><i class="k" style="width:25.80px"><i>인분</i></i><i class="l" style="width:10.28px"><i>/1</i></i><i class="k" style="width:25.80px"><i>박스</i></i></span></div>
<div class="c" style="left:952.25px;width:126.70px;top:568.51px;height:18.39px;overflow:hidden;color:#111"><span style="left:2.5px"><i class="l" style="width:20.56px"><i>100</i></i><i class="k" style="width:25.80px"><i>인분</i></i><i class="l" style="width:10.28px"><i>/1</i></i><i class="k" style="width:25.80px"><i>박스</i></i></span></div>
<div class="c" style="left:952.25px;width:126.70px;top:586.91px;height:18.39px;overflow:hidden;color:#111"><span style="left:2.5px"><i class="l" style="width:20.56px"><i>100</i></i><i class="k" style="width:25.80px"><i>인분</i></i><i class="l" style="width:10.28px"><i>/1</i></i><i class="k" style="width:25.80px"><i>박스</i></i></span></div>
<div class="c" style="left:952.25px;width:126.70px;top:605.30px;height:18.39px;overflow:hidden;color:#111"><span style="left:2.5px"><i class="l" style="width:20.56px"><i>100</i></i><i class="k" style="width:25.80px"><i>인분</i></i><i class="l" style="width:10.28px"><i>/1</i></i><i class="k" style="width:25.80px"><i>박스</i></i></span></div>
<div class="c" style="left:952.25px;width:126.70px;top:623.69px;height:18.39px;overflow:hidden;color:#111"><span style="left:2.5px"><i class="l" style="width:20.56px"><i>100</i></i><i class="k" style="width:25.80px"><i>인분</i></i><i class="l" style="width:10.28px"><i>/1</i></i><i class="k" style="width:25.80px"><i>박스</i></i></span></div>
<div class="c" style="left:952.25px;width:126.70px;top:642.08px;height:18.39px;overflow:hidden;color:#111"><span style="left:2.5px"><i class="l" style="width:20.56px"><i>100</i></i><i class="k" style="width:25.80px"><i>인분</i></i><i class="l" style="width:10.28px"><i>/1</i></i><i class="k" style="width:25.80px"><i>박스</i></i></span></div>
<div class="c" style="left:952.25px;width:126.70px;top:660.48px;height:18.39px;overflow:hidden;color:#111"><span style="left:2.5px"><i class="l" style="width:20.56px"><i>100</i></i><i class="k" style="width:25.80px"><i>인분</i></i><i class="l" style="width:10.28px"><i>/1</i></i><i class="k" style="width:25.80px"><i>박스</i></i></span></div>
<div class="c" style="left:952.25px;width:126.70px;top:531.73px;height:18.39px;overflow:hidden;color:#111"><span style="left:35px"><i class="k" style="width:25.80px"><i>비고</i></i></span></div>
<div class="c" style="left:635.50px;width:126.70px;top:697.26px;height:18.39px;overflow:hidden;color:#111"><span style="left:2.5px"><i class="k" style="width:51.60px"><i>기본반찬</i></i></span></div>
<div class="c" style="left:762.20px;width:63.35px;top:697.26px;height:18.39px;overflow:hidden;color:#111"><span style="right:1.8px"><i class="l" style="width:20.56px"><i>578</i></i></span></div>
<div class="r" style="left:635px;top:770px;width:443px;height:19px;background:#b4c6e7"></div>
<div class="r" style="left:635px;top:770px;width:444px;height:1px;background:#333"></div>
<div class="r" style="left:635px;top:789px;width:444px;height:1px;background:#333"></div>
<div class="r" style="left:635px;top:807px;width:444px;height:1px;background:#333"></div>
<div class="r" style="left:635px;top:770px;width:1px;height:20px;background:#333"></div>
<div class="r" style="left:635px;top:789px;width:1px;height:19px;background:#333"></div>
<div class="r" style="left:698px;top:770px;width:1px;height:20px;background:#333"></div>
<div class="r" style="left:698px;top:789px;width:1px;height:19px;background:#333"></div>
<div class="r" style="left:762px;top:770px;width:1px;height:20px;background:#333"></div>
<div class="r" style="left:762px;top:789px;width:1px;height:19px;background:#333"></div>
<div class="r" style="left:825px;top:770px;width:1px;height:20px;background:#333"></div>
<div class="r" style="left:825px;top:789px;width:1px;height:19px;background:#333"></div>
<div class="r" style="left:888px;top:770px;width:1px;height:20px;background:#333"></div>
<div class="r" style="left:888px;top:789px;width:1px;height:19px;background:#333"></div>
<div class="r" style="left:952px;top:770px;width:1px;height:20px;background:#333"></div>
<div class="r" style="left:952px;top:789px;width:1px;height:19px;background:#333"></div>
<div class="r" style="left:1078px;top:770px;width:1px;height:20px;background:#333"></div>
<div class="r" style="left:1078px;top:789px;width:1px;height:19px;background:#333"></div>
<div class="c" style="left:698.85px;width:63.35px;top:770.84px;height:18.39px;overflow:hidden;color:#111"><span style="left:2.5px"><i class="k" style="width:25.80px"><i>단가</i></i><i class="l" style="width:30.14px"><i>/40kg</i></i></span></div>
<div class="c" style="left:762.20px;width:63.35px;top:770.84px;height:18.39px;overflow:hidden;color:#111"><span style="left:2.5px"><i class="k" style="width:25.80px"><i>단가</i></i><i class="l" style="width:10.28px"><i>/1</i></i><i class="k" style="width:25.80px"><i>공기</i></i></span></div>
<div class="c" style="left:825.55px;width:63.35px;top:770.84px;height:18.39px;overflow:hidden;color:#111"><span style="left:2.5px"><i class="k" style="width:38.70px"><i>구매량</i></i><i class="l" style="width:38.35px"><i>(/40kg)</i></i></span></div>
<div class="c" style="left:888.90px;width:63.35px;top:770.84px;height:18.39px;overflow:hidden;color:#111"><span style="left:2.5px"><i class="k" style="width:51.60px"><i>구매금액</i></i><i class="l" style="width:19.84px"><i>(₩)</i></i></span></div>
<div class="c" style="left:635.50px;width:63.35px;top:789.23px;height:18.39px;overflow:hidden;color:#111"><span style="left:2.5px"><i class="k" style="width:12.90px"><i>쌀</i></i></span></div>
<div class="c" style="left:698.85px;width:63.35px;top:789.23px;height:18.39px;overflow:hidden;color:#111"><span style="right:1.8px"><i class="l" style="width:37.69px"><i>40,000</i></i></span></div>
<div class="c" style="left:952.25px;width:126.70px;top:789.23px;height:18.39px;overflow:hidden;color:#111"><span style="left:2px"><i class="l" style="width:54.48px"><i>40kg=100</i></i><i class="k" style="width:25.80px"><i>공기</i></i></span></div>
<div class="c" style="left:952.25px;width:126.70px;top:770.84px;height:18.39px;overflow:hidden;color:#111"><span style="left:35px"><i class="k" style="width:25.80px"><i>비고</i></i></span></div>
<div class="c" style="left:635.50px;width:126.70px;top:807.62px;height:18.39px;overflow:hidden;color:#111"><span style="left:2.5px"><i class="k" style="width:38.70px"><i>공기밥</i></i></span></div>
<div class="c" style="left:762.20px;width:63.35px;top:807.62px;height:18.39px;overflow:hidden;color:#111"><span style="right:1.8px"><i class="l" style="width:20.56px"><i>400</i></i></span></div>
<div class="c b" style="left:4.00px;width:300px;top:90.29px;height:18.39px"><span style="left:0"><i class="k" style="width:12.90px"><i>※</i></i><i class="l" style="width:4.42px"><i> </i></i><i class="k" style="width:38.70px"><i>메뉴별</i></i><i class="l" style="width:4.42px"><i> </i></i><i class="k" style="width:38.70px"><i>재료비</i></i></span></div>
<div class="c b" style="left:322.00px;width:300px;top:90.29px;height:18.39px"><span style="left:0"><i class="k" style="width:38.70px"><i>메뉴별</i></i><i class="l" style="width:4.42px"><i> </i></i><i class="k" style="width:38.70px"><i>재료비</i></i><i class="l" style="width:4.42px"><i> </i></i><i class="k" style="width:25.80px"><i>계산</i></i></span></div>
<div class="c b" style="left:322.00px;width:300px;top:127.08px;height:18.39px"><span style="left:0"><i class="l" style="width:15.38px"><i>1) </i></i><i class="k" style="width:64.50px"><i>육회비빔밥</i></i></span></div>
<div class="c b" style="left:322.00px;width:300px;top:329.40px;height:18.39px"><span style="left:0"><i class="l" style="width:15.38px"><i>2) </i></i><i class="k" style="width:51.60px"><i>소불고기</i></i><i class="l" style="width:4.42px"><i> </i></i><i class="k" style="width:38.70px"><i>재료비</i></i></span></div>
<div class="c b" style="left:322.00px;width:300px;top:531.73px;height:18.39px"><span style="left:0"><i class="l" style="width:15.38px"><i>3) </i></i><i class="k" style="width:51.60px"><i>돼지불백</i></i><i class="l" style="width:4.42px"><i> </i></i><i class="k" style="width:38.70px"><i>재료비</i></i></span></div>
<div class="c b" style="left:322.00px;width:300px;top:734.05px;height:18.39px"><span style="left:0"><i class="k" style="width:12.90px"><i>※</i></i><i class="l" style="width:4.42px"><i> </i></i><i class="k" style="width:38.70px"><i>메뉴별</i></i><i class="l" style="width:4.42px"><i> </i></i><i class="k" style="width:38.70px"><i>재료비</i></i><i class="l" style="width:4.42px"><i> </i></i><i class="k" style="width:25.80px"><i>정리</i></i></span></div>
<div class="c b" style="left:637.00px;width:300px;top:127.08px;height:18.39px"><span style="left:0"><i class="k" style="width:12.90px"><i>※</i></i><i class="l" style="width:4.42px"><i> </i></i><i class="k" style="width:25.80px"><i>재고</i></i><i class="l" style="width:4.42px"><i> </i></i><i class="k" style="width:38.70px"><i>수불부</i></i><i class="l" style="width:8.53px"><i> (</i></i><i class="k" style="width:51.60px"><i>수량기준</i></i><i class="l" style="width:4.10px"><i>)</i></i></span></div>
<div class="c b" style="left:1080.00px;width:300px;top:127.08px;height:18.39px"><span style="left:0"><i class="k" style="width:12.90px"><i>※</i></i><i class="l" style="width:4.42px"><i> </i></i><i class="k" style="width:64.50px"><i>재고수불부</i></i><i class="l" style="width:6.85px"><i>_</i></i><i class="k" style="width:25.80px"><i>수입</i></i><i class="l" style="width:4.42px"><i> </i></i><i class="k" style="width:25.80px"><i>내역</i></i></span></div>
<div class="c b" style="left:637.00px;width:300px;top:494.94px;height:18.39px"><span style="left:0"><i class="k" style="width:12.90px"><i>※</i></i><i class="l" style="width:4.42px"><i> </i></i><i class="k" style="width:51.60px"><i>기본반찬</i></i><i class="l" style="width:4.42px"><i> </i></i><i class="k" style="width:25.80px"><i>구매</i></i><i class="l" style="width:4.42px"><i> </i></i><i class="k" style="width:25.80px"><i>실적</i></i></span></div>
<div class="c b" style="left:637.00px;width:300px;top:734.05px;height:18.39px"><span style="left:0"><i class="k" style="width:12.90px"><i>※</i></i><i class="l" style="width:4.42px"><i> </i></i><i class="k" style="width:12.90px"><i>쌀</i></i><i class="l" style="width:4.42px"><i> </i></i><i class="k" style="width:25.80px"><i>구매</i></i><i class="l" style="width:4.42px"><i> </i></i><i class="k" style="width:25.80px"><i>실적</i></i></span></div>
<div class="c" style="left:2.00px;width:316.75px;top:219.05px;height:18.39px;color:#111"><span style="right:1.5px"><i class="l" style="width:4.10px"><i>(</i></i><i class="k" style="width:64.50px"><i>공통재료비</i></i><i class="l" style="width:12.27px"><i> : </i></i><i class="k" style="width:38.70px"><i>공기밥</i></i><i class="l" style="width:7.85px"><i>, </i></i><i class="k" style="width:25.80px"><i>기본</i></i><i class="l" style="width:4.42px"><i> </i></i><i class="k" style="width:25.80px"><i>반찬</i></i><i class="l" style="width:4.10px"><i>)</i></i></span></div>
</div>
</body></html>
